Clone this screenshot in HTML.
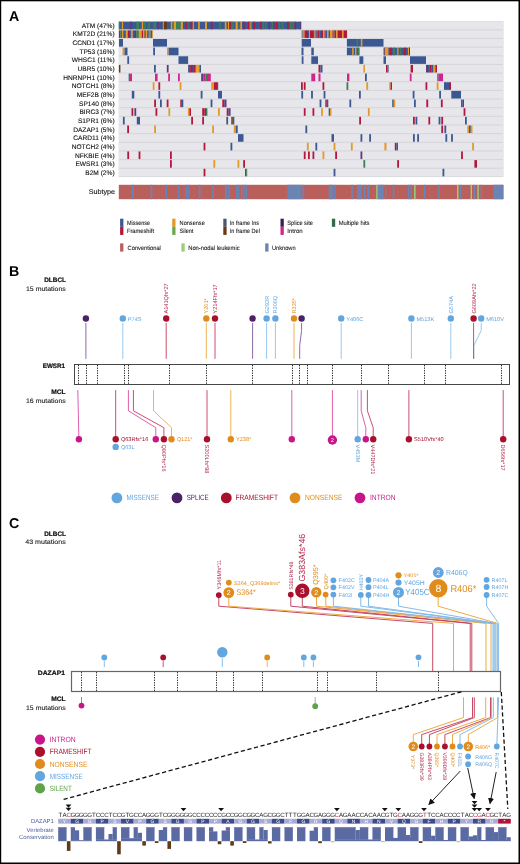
<!DOCTYPE html>
<html><head><meta charset="utf-8"><style>
html,body{margin:0;padding:0;background:#fff;}
body{width:520px;height:864px;overflow:hidden;position:relative;}
svg{position:absolute;left:0;top:0;font-family:'Liberation Sans',sans-serif;will-change:transform;}
svg text{font-family:'Liberation Sans',sans-serif;text-rendering:geometricPrecision;}
</style></head><body>
<svg width="520" height="864" viewBox="0 0 520 864">
<rect x="0" y="0" width="520" height="864" fill="#fff"/>
<text x="9.00" y="21.30" font-size="14.2" fill="#000" text-anchor="start" font-weight="bold" >A</text>
<rect x="118.80" y="21.20" width="384.60" height="155.90" fill="#d6d6da" />
<rect x="118.80" y="21.70" width="384.60" height="7.60" fill="#e6e6eb" />
<rect x="118.80" y="30.35" width="384.60" height="7.60" fill="#e6e6eb" />
<rect x="118.80" y="39.00" width="384.60" height="7.60" fill="#e6e6eb" />
<rect x="118.80" y="47.65" width="384.60" height="7.60" fill="#e6e6eb" />
<rect x="118.80" y="56.30" width="384.60" height="7.60" fill="#e6e6eb" />
<rect x="118.80" y="64.95" width="384.60" height="7.60" fill="#e6e6eb" />
<rect x="118.80" y="73.60" width="384.60" height="7.60" fill="#e6e6eb" />
<rect x="118.80" y="82.25" width="384.60" height="7.60" fill="#e6e6eb" />
<rect x="118.80" y="90.90" width="384.60" height="7.60" fill="#e6e6eb" />
<rect x="118.80" y="99.55" width="384.60" height="7.60" fill="#e6e6eb" />
<rect x="118.80" y="108.20" width="384.60" height="7.60" fill="#e6e6eb" />
<rect x="118.80" y="116.85" width="384.60" height="7.60" fill="#e6e6eb" />
<rect x="118.80" y="125.50" width="384.60" height="7.60" fill="#e6e6eb" />
<rect x="118.80" y="134.15" width="384.60" height="7.60" fill="#e6e6eb" />
<rect x="118.80" y="142.80" width="384.60" height="7.60" fill="#e6e6eb" />
<rect x="118.80" y="151.45" width="384.60" height="7.60" fill="#e6e6eb" />
<rect x="118.80" y="160.10" width="384.60" height="7.60" fill="#e6e6eb" />
<rect x="118.80" y="168.75" width="384.60" height="7.60" fill="#e6e6eb" />
<text x="114.60" y="27.80" font-size="6.6" fill="#151515" text-anchor="end" font-weight="normal" stroke="#151515" stroke-width="0.12">ATM (47%)</text>
<text x="114.60" y="36.45" font-size="6.6" fill="#151515" text-anchor="end" font-weight="normal" stroke="#151515" stroke-width="0.12">KMT2D (21%)</text>
<text x="114.60" y="45.10" font-size="6.6" fill="#151515" text-anchor="end" font-weight="normal" stroke="#151515" stroke-width="0.12">CCND1 (17%)</text>
<text x="114.60" y="53.75" font-size="6.6" fill="#151515" text-anchor="end" font-weight="normal" stroke="#151515" stroke-width="0.12">TP53 (16%)</text>
<text x="114.60" y="62.40" font-size="6.6" fill="#151515" text-anchor="end" font-weight="normal" stroke="#151515" stroke-width="0.12">WHSC1 (11%)</text>
<text x="114.60" y="71.05" font-size="6.6" fill="#151515" text-anchor="end" font-weight="normal" stroke="#151515" stroke-width="0.12">UBR5 (10%)</text>
<text x="114.60" y="79.70" font-size="6.6" fill="#151515" text-anchor="end" font-weight="normal" stroke="#151515" stroke-width="0.12">HNRNPH1 (10%)</text>
<text x="114.60" y="88.35" font-size="6.6" fill="#151515" text-anchor="end" font-weight="normal" stroke="#151515" stroke-width="0.12">NOTCH1 (8%)</text>
<text x="114.60" y="97.00" font-size="6.6" fill="#151515" text-anchor="end" font-weight="normal" stroke="#151515" stroke-width="0.12">MEF2B (8%)</text>
<text x="114.60" y="105.65" font-size="6.6" fill="#151515" text-anchor="end" font-weight="normal" stroke="#151515" stroke-width="0.12">SP140 (8%)</text>
<text x="114.60" y="114.30" font-size="6.6" fill="#151515" text-anchor="end" font-weight="normal" stroke="#151515" stroke-width="0.12">BIRC3 (7%)</text>
<text x="114.60" y="122.95" font-size="6.6" fill="#151515" text-anchor="end" font-weight="normal" stroke="#151515" stroke-width="0.12">S1PR1 (6%)</text>
<text x="114.60" y="131.60" font-size="6.6" fill="#151515" text-anchor="end" font-weight="normal" stroke="#151515" stroke-width="0.12">DAZAP1 (5%)</text>
<text x="114.60" y="140.25" font-size="6.6" fill="#151515" text-anchor="end" font-weight="normal" stroke="#151515" stroke-width="0.12">CARD11 (4%)</text>
<text x="114.60" y="148.90" font-size="6.6" fill="#151515" text-anchor="end" font-weight="normal" stroke="#151515" stroke-width="0.12">NOTCH2 (4%)</text>
<text x="114.60" y="157.55" font-size="6.6" fill="#151515" text-anchor="end" font-weight="normal" stroke="#151515" stroke-width="0.12">NFKBIE (4%)</text>
<text x="114.60" y="166.20" font-size="6.6" fill="#151515" text-anchor="end" font-weight="normal" stroke="#151515" stroke-width="0.12">EWSR1 (3%)</text>
<text x="114.60" y="174.85" font-size="6.6" fill="#151515" text-anchor="end" font-weight="normal" stroke="#151515" stroke-width="0.12">B2M (2%)</text>
<rect x="118.80" y="21.70" width="182.50" height="7.60" fill="#3b5892" />
<rect x="118.90" y="21.70" width="1.30" height="7.60" fill="#3f7d58" />
<rect x="121.90" y="21.70" width="1.20" height="7.60" fill="#e39a29" />
<rect x="130.10" y="21.70" width="1.70" height="7.60" fill="#5b3c7e" />
<rect x="136.20" y="21.70" width="3.00" height="7.60" fill="#3f7d58" />
<rect x="141.80" y="21.70" width="1.30" height="7.60" fill="#e39a29" />
<rect x="143.10" y="21.70" width="2.60" height="7.60" fill="#3f7d58" />
<rect x="147.80" y="21.70" width="2.20" height="7.60" fill="#3f7d58" />
<rect x="153.50" y="21.70" width="2.50" height="7.60" fill="#3f7d58" />
<rect x="157.40" y="21.70" width="1.70" height="7.60" fill="#5b3c7e" />
<rect x="160.90" y="21.70" width="1.30" height="7.60" fill="#5b3c7e" />
<rect x="162.80" y="21.70" width="1.10" height="7.60" fill="#e39a29" />
<rect x="163.90" y="21.70" width="3.00" height="7.60" fill="#6a3a14" />
<rect x="170.80" y="21.70" width="1.70" height="7.60" fill="#e39a29" />
<rect x="172.50" y="21.70" width="1.30" height="7.60" fill="#3f7d58" />
<rect x="173.80" y="21.70" width="2.20" height="7.60" fill="#e39a29" />
<rect x="176.00" y="21.70" width="4.80" height="7.60" fill="#3f7d58" />
<rect x="180.80" y="21.70" width="2.10" height="7.60" fill="#e39a29" />
<rect x="185.50" y="21.70" width="1.30" height="7.60" fill="#b2183d" />
<rect x="187.70" y="21.70" width="0.90" height="7.60" fill="#3f7d58" />
<rect x="190.70" y="21.70" width="2.00" height="7.60" fill="#b2183d" />
<rect x="192.70" y="21.70" width="1.20" height="7.60" fill="#e39a29" />
<rect x="198.10" y="21.70" width="1.70" height="7.60" fill="#e39a29" />
<rect x="205.00" y="21.70" width="2.00" height="7.60" fill="#e39a29" />
<rect x="210.90" y="21.70" width="1.60" height="7.60" fill="#b2183d" />
<rect x="219.10" y="21.70" width="1.80" height="7.60" fill="#3f7d58" />
<rect x="224.80" y="21.70" width="1.70" height="7.60" fill="#e39a29" />
<rect x="228.00" y="21.70" width="1.10" height="7.60" fill="#e39a29" />
<rect x="229.10" y="21.70" width="1.70" height="7.60" fill="#b2183d" />
<rect x="231.20" y="21.70" width="2.60" height="7.60" fill="#3f7d58" />
<rect x="235.60" y="21.70" width="2.10" height="7.60" fill="#e39a29" />
<rect x="238.60" y="21.70" width="0.90" height="7.60" fill="#3f7d58" />
<rect x="240.30" y="21.70" width="1.80" height="7.60" fill="#e39a29" />
<rect x="242.50" y="21.70" width="2.60" height="7.60" fill="#5b3c7e" />
<rect x="248.00" y="21.70" width="1.00" height="7.60" fill="#b2183d" />
<rect x="249.00" y="21.70" width="1.10" height="7.60" fill="#3f7d58" />
<rect x="250.30" y="21.70" width="1.10" height="7.60" fill="#e39a29" />
<rect x="253.10" y="21.70" width="1.80" height="7.60" fill="#b2183d" />
<rect x="260.20" y="21.70" width="1.60" height="7.60" fill="#b2183d" />
<rect x="262.30" y="21.70" width="1.60" height="7.60" fill="#3f7d58" />
<rect x="264.90" y="21.70" width="1.60" height="7.60" fill="#3f7d58" />
<rect x="268.60" y="21.70" width="1.60" height="7.60" fill="#5b3c7e" />
<rect x="271.80" y="21.70" width="1.10" height="7.60" fill="#3f7d58" />
<rect x="273.40" y="21.70" width="1.60" height="7.60" fill="#5b3c7e" />
<rect x="276.00" y="21.70" width="1.60" height="7.60" fill="#b2183d" />
<rect x="278.70" y="21.70" width="1.60" height="7.60" fill="#3f7d58" />
<rect x="281.90" y="21.70" width="1.50" height="7.60" fill="#3f7d58" />
<rect x="287.20" y="21.70" width="1.50" height="7.60" fill="#b2183d" />
<rect x="289.80" y="21.70" width="1.60" height="7.60" fill="#3f7d58" />
<rect x="292.40" y="21.70" width="1.60" height="7.60" fill="#3f7d58" />
<rect x="294.60" y="21.70" width="1.50" height="7.60" fill="#b2183d" />
<rect x="299.90" y="21.70" width="1.00" height="7.60" fill="#5b3c7e" />
<rect x="118.90" y="30.35" width="1.45" height="7.60" fill="#b2183d" />
<rect x="120.20" y="30.35" width="0.95" height="7.60" fill="#3f7d58" />
<rect x="121.00" y="30.35" width="1.05" height="7.60" fill="#3b5892" />
<rect x="121.90" y="30.35" width="1.45" height="7.60" fill="#e39a29" />
<rect x="123.20" y="30.35" width="1.85" height="7.60" fill="#3b5892" />
<rect x="124.90" y="30.35" width="1.05" height="7.60" fill="#3b5892" />
<rect x="125.80" y="30.35" width="2.05" height="7.60" fill="#e39a29" />
<rect x="127.70" y="30.35" width="2.55" height="7.60" fill="#b2183d" />
<rect x="130.10" y="30.35" width="1.45" height="7.60" fill="#3b5892" />
<rect x="131.40" y="30.35" width="1.45" height="7.60" fill="#e39a29" />
<rect x="132.70" y="30.35" width="2.35" height="7.60" fill="#3b5892" />
<rect x="134.90" y="30.35" width="1.45" height="7.60" fill="#b2183d" />
<rect x="136.20" y="30.35" width="2.75" height="7.60" fill="#3f7d58" />
<rect x="138.80" y="30.35" width="3.15" height="7.60" fill="#e39a29" />
<rect x="141.80" y="30.35" width="1.45" height="7.60" fill="#b2183d" />
<rect x="143.10" y="30.35" width="1.45" height="7.60" fill="#e39a29" />
<rect x="144.40" y="30.35" width="1.45" height="7.60" fill="#6a3a14" />
<rect x="145.70" y="30.35" width="1.45" height="7.60" fill="#e39a29" />
<rect x="147.00" y="30.35" width="1.45" height="7.60" fill="#3f7d58" />
<rect x="148.30" y="30.35" width="1.45" height="7.60" fill="#3b5892" />
<rect x="149.60" y="30.35" width="0.95" height="7.60" fill="#e39a29" />
<rect x="150.40" y="30.35" width="1.95" height="7.60" fill="#3b5892" />
<rect x="152.20" y="30.35" width="0.85" height="7.60" fill="#e39a29" />
<rect x="301.30" y="30.35" width="1.35" height="7.60" fill="#e39a29" />
<rect x="302.50" y="30.35" width="1.15" height="7.60" fill="#3b5892" />
<rect x="303.50" y="30.35" width="1.15" height="7.60" fill="#e39a29" />
<rect x="304.50" y="30.35" width="3.65" height="7.60" fill="#b2183d" />
<rect x="308.00" y="30.35" width="1.15" height="7.60" fill="#3b5892" />
<rect x="309.00" y="30.35" width="1.15" height="7.60" fill="#e39a29" />
<rect x="310.00" y="30.35" width="3.15" height="7.60" fill="#b2183d" />
<rect x="313.00" y="30.35" width="1.65" height="7.60" fill="#3b5892" />
<rect x="314.50" y="30.35" width="1.15" height="7.60" fill="#e39a29" />
<rect x="315.50" y="30.35" width="1.15" height="7.60" fill="#6a3a14" />
<rect x="316.50" y="30.35" width="1.15" height="7.60" fill="#3b5892" />
<rect x="317.50" y="30.35" width="2.15" height="7.60" fill="#b2183d" />
<rect x="319.50" y="30.35" width="1.65" height="7.60" fill="#3b5892" />
<rect x="321.00" y="30.35" width="1.15" height="7.60" fill="#5b3c7e" />
<rect x="322.00" y="30.35" width="1.15" height="7.60" fill="#b2183d" />
<rect x="323.00" y="30.35" width="1.65" height="7.60" fill="#e39a29" />
<rect x="324.50" y="30.35" width="1.15" height="7.60" fill="#b2183d" />
<rect x="325.50" y="30.35" width="1.65" height="7.60" fill="#3b5892" />
<rect x="327.00" y="30.35" width="1.65" height="7.60" fill="#e39a29" />
<rect x="328.50" y="30.35" width="1.65" height="7.60" fill="#3b5892" />
<rect x="330.00" y="30.35" width="2.65" height="7.60" fill="#e39a29" />
<rect x="332.50" y="30.35" width="1.15" height="7.60" fill="#b2183d" />
<rect x="333.50" y="30.35" width="1.15" height="7.60" fill="#3f7d58" />
<rect x="334.50" y="30.35" width="1.65" height="7.60" fill="#b2183d" />
<rect x="336.00" y="30.35" width="1.65" height="7.60" fill="#e39a29" />
<rect x="337.50" y="30.35" width="4.65" height="7.60" fill="#b2183d" />
<rect x="342.00" y="30.35" width="1.65" height="7.60" fill="#e39a29" />
<rect x="343.50" y="30.35" width="3.55" height="7.60" fill="#b2183d" />
<rect x="346.90" y="47.65" width="12.50" height="7.60" fill="#3b5892" />
<rect x="383.80" y="47.65" width="26.20" height="7.60" fill="#3b5892" />
<rect x="352.10" y="47.65" width="1.60" height="7.60" fill="#e39a29" />
<rect x="355.00" y="47.65" width="1.40" height="7.60" fill="#e39a29" />
<rect x="357.50" y="47.65" width="1.80" height="7.60" fill="#3f7d58" />
<rect x="383.70" y="47.65" width="1.10" height="7.60" fill="#5b3c7e" />
<rect x="384.80" y="47.65" width="3.60" height="7.60" fill="#e39a29" />
<rect x="389.80" y="47.65" width="2.00" height="7.60" fill="#b2183d" />
<rect x="393.10" y="47.65" width="2.00" height="7.60" fill="#3f7d58" />
<rect x="397.20" y="47.65" width="1.30" height="7.60" fill="#e39a29" />
<rect x="399.90" y="47.65" width="1.30" height="7.60" fill="#3f7d58" />
<rect x="403.90" y="47.65" width="2.00" height="7.60" fill="#b2183d" />
<rect x="407.90" y="47.65" width="1.10" height="7.60" fill="#e39a29" />
<rect x="409.00" y="47.65" width="1.00" height="7.60" fill="#6a3a14" />
<rect x="188.10" y="64.95" width="2.00" height="7.60" fill="#3b5892" />
<rect x="190.10" y="64.95" width="1.90" height="7.60" fill="#b2183d" />
<rect x="192.00" y="64.95" width="1.90" height="7.60" fill="#5b3c7e" />
<rect x="193.90" y="64.95" width="1.90" height="7.60" fill="#b2183d" />
<rect x="195.80" y="64.95" width="1.90" height="7.60" fill="#e39a29" />
<rect x="197.70" y="64.95" width="1.70" height="7.60" fill="#e39a29" />
<rect x="199.40" y="64.95" width="1.60" height="7.60" fill="#3b5892" />
<rect x="426.00" y="64.95" width="2.00" height="7.60" fill="#5b3c7e" />
<rect x="428.00" y="64.95" width="1.90" height="7.60" fill="#3b5892" />
<rect x="429.90" y="64.95" width="1.90" height="7.60" fill="#b2183d" />
<rect x="431.80" y="64.95" width="1.80" height="7.60" fill="#3b5892" />
<rect x="433.60" y="64.95" width="1.70" height="7.60" fill="#e39a29" />
<rect x="435.30" y="64.95" width="1.70" height="7.60" fill="#b2183d" />
<rect x="201.20" y="73.60" width="2.00" height="7.60" fill="#5b3c7e" />
<rect x="203.20" y="73.60" width="2.00" height="7.60" fill="#d1258d" />
<rect x="205.20" y="73.60" width="1.80" height="7.60" fill="#3f7d58" />
<rect x="207.00" y="73.60" width="3.80" height="7.60" fill="#d1258d" />
<rect x="119.00" y="39.00" width="4.00" height="7.60" fill="#3b5892" />
<rect x="153.00" y="39.00" width="14.00" height="7.60" fill="#3b5892" />
<rect x="301.70" y="39.00" width="9.30" height="7.60" fill="#3b5892" />
<rect x="346.90" y="39.00" width="36.60" height="7.60" fill="#3b5892" />
<rect x="356.60" y="39.00" width="1.60" height="7.60" fill="#3f7d58" />
<rect x="360.80" y="39.00" width="1.60" height="7.60" fill="#e39a29" />
<rect x="122.50" y="47.65" width="2.00" height="7.60" fill="#e39a29" />
<rect x="124.50" y="47.65" width="3.00" height="7.60" fill="#3b5892" />
<rect x="153.20" y="47.65" width="1.80" height="7.60" fill="#3b5892" />
<rect x="167.00" y="47.65" width="1.60" height="7.60" fill="#e39a29" />
<rect x="168.60" y="47.65" width="9.90" height="7.60" fill="#3b5892" />
<rect x="301.50" y="47.65" width="2.00" height="7.60" fill="#3b5892" />
<rect x="311.30" y="47.65" width="2.50" height="7.60" fill="#3b5892" />
<rect x="127.30" y="56.30" width="1.80" height="7.60" fill="#3b5892" />
<rect x="178.50" y="56.30" width="9.60" height="7.60" fill="#3b5892" />
<rect x="301.70" y="56.30" width="1.80" height="7.60" fill="#3b5892" />
<rect x="311.30" y="56.30" width="6.70" height="7.60" fill="#3b5892" />
<rect x="359.40" y="56.30" width="3.90" height="7.60" fill="#3b5892" />
<rect x="383.50" y="56.30" width="2.50" height="7.60" fill="#3b5892" />
<rect x="410.00" y="56.30" width="16.00" height="7.60" fill="#3b5892" />
<rect x="118.90" y="64.95" width="1.50" height="7.60" fill="#6a3a14" />
<rect x="154.00" y="64.95" width="1.80" height="7.60" fill="#3b5892" />
<rect x="166.80" y="64.95" width="1.80" height="7.60" fill="#5b3c7e" />
<rect x="318.50" y="64.95" width="2.00" height="7.60" fill="#b2183d" />
<rect x="320.50" y="64.95" width="2.00" height="7.60" fill="#3b5892" />
<rect x="363.40" y="64.95" width="1.60" height="7.60" fill="#e39a29" />
<rect x="386.00" y="64.95" width="1.30" height="7.60" fill="#b2183d" />
<rect x="387.30" y="64.95" width="1.30" height="7.60" fill="#3b5892" />
<rect x="410.60" y="64.95" width="2.40" height="7.60" fill="#b2183d" />
<rect x="128.60" y="73.60" width="1.40" height="7.60" fill="#3f7d58" />
<rect x="130.00" y="73.60" width="2.00" height="7.60" fill="#d1258d" />
<rect x="155.00" y="73.60" width="2.60" height="7.60" fill="#d1258d" />
<rect x="168.20" y="73.60" width="1.80" height="7.60" fill="#d1258d" />
<rect x="178.00" y="73.60" width="1.80" height="7.60" fill="#d1258d" />
<rect x="311.30" y="73.60" width="3.90" height="7.60" fill="#d1258d" />
<rect x="318.50" y="73.60" width="2.00" height="7.60" fill="#d1258d" />
<rect x="347.00" y="73.60" width="2.40" height="7.60" fill="#d1258d" />
<rect x="365.00" y="73.60" width="1.80" height="7.60" fill="#3b5892" />
<rect x="409.80" y="73.60" width="1.80" height="7.60" fill="#d1258d" />
<rect x="437.30" y="73.60" width="1.30" height="7.60" fill="#3b5892" />
<rect x="438.60" y="73.60" width="4.40" height="7.60" fill="#d1258d" />
<rect x="152.70" y="82.25" width="1.80" height="7.60" fill="#e39a29" />
<rect x="158.40" y="82.25" width="1.80" height="7.60" fill="#b2183d" />
<rect x="179.60" y="82.25" width="1.80" height="7.60" fill="#e39a29" />
<rect x="211.20" y="82.25" width="2.80" height="7.60" fill="#e39a29" />
<rect x="214.00" y="82.25" width="3.00" height="7.60" fill="#b2183d" />
<rect x="217.00" y="82.25" width="1.20" height="7.60" fill="#3b5892" />
<rect x="301.00" y="82.25" width="1.80" height="7.60" fill="#b2183d" />
<rect x="303.80" y="82.25" width="1.80" height="7.60" fill="#b2183d" />
<rect x="322.50" y="82.25" width="1.80" height="7.60" fill="#b2183d" />
<rect x="346.50" y="82.25" width="1.80" height="7.60" fill="#3f7d58" />
<rect x="366.30" y="82.25" width="1.80" height="7.60" fill="#e39a29" />
<rect x="389.20" y="82.25" width="1.40" height="7.60" fill="#e39a29" />
<rect x="390.60" y="82.25" width="1.40" height="7.60" fill="#b2183d" />
<rect x="425.50" y="82.25" width="1.80" height="7.60" fill="#b2183d" />
<rect x="436.70" y="82.25" width="1.80" height="7.60" fill="#e39a29" />
<rect x="444.00" y="82.25" width="5.00" height="7.60" fill="#3b5892" />
<rect x="449.00" y="82.25" width="2.00" height="7.60" fill="#b2183d" />
<rect x="131.80" y="90.90" width="2.50" height="7.60" fill="#3b5892" />
<rect x="158.40" y="90.90" width="1.80" height="7.60" fill="#3b5892" />
<rect x="200.70" y="90.90" width="1.80" height="7.60" fill="#3b5892" />
<rect x="218.00" y="90.90" width="4.00" height="7.60" fill="#3b5892" />
<rect x="301.30" y="90.90" width="1.80" height="7.60" fill="#3b5892" />
<rect x="311.10" y="90.90" width="1.80" height="7.60" fill="#3b5892" />
<rect x="323.60" y="90.90" width="1.80" height="7.60" fill="#3b5892" />
<rect x="359.00" y="90.90" width="1.80" height="7.60" fill="#3b5892" />
<rect x="412.70" y="90.90" width="1.80" height="7.60" fill="#3b5892" />
<rect x="439.20" y="90.90" width="1.80" height="7.60" fill="#3b5892" />
<rect x="451.30" y="90.90" width="9.70" height="7.60" fill="#3b5892" />
<rect x="154.20" y="99.55" width="1.80" height="7.60" fill="#b2183d" />
<rect x="160.00" y="99.55" width="1.80" height="7.60" fill="#3b5892" />
<rect x="166.70" y="99.55" width="1.80" height="7.60" fill="#b2183d" />
<rect x="180.30" y="99.55" width="1.60" height="7.60" fill="#b2183d" />
<rect x="181.90" y="99.55" width="1.40" height="7.60" fill="#3b5892" />
<rect x="210.60" y="99.55" width="1.80" height="7.60" fill="#3b5892" />
<rect x="222.30" y="99.55" width="2.00" height="7.60" fill="#b2183d" />
<rect x="224.30" y="99.55" width="2.20" height="7.60" fill="#5b3c7e" />
<rect x="319.60" y="99.55" width="1.80" height="7.60" fill="#3b5892" />
<rect x="325.30" y="99.55" width="1.50" height="7.60" fill="#b2183d" />
<rect x="326.80" y="99.55" width="1.50" height="7.60" fill="#3b5892" />
<rect x="349.40" y="99.55" width="1.80" height="7.60" fill="#3b5892" />
<rect x="392.20" y="99.55" width="1.60" height="7.60" fill="#3b5892" />
<rect x="393.80" y="99.55" width="1.40" height="7.60" fill="#e39a29" />
<rect x="414.00" y="99.55" width="1.80" height="7.60" fill="#3b5892" />
<rect x="426.30" y="99.55" width="1.90" height="7.60" fill="#b2183d" />
<rect x="440.90" y="99.55" width="1.80" height="7.60" fill="#b2183d" />
<rect x="461.00" y="99.55" width="1.60" height="7.60" fill="#3b5892" />
<rect x="462.60" y="99.55" width="1.40" height="7.60" fill="#5b3c7e" />
<rect x="131.50" y="108.20" width="1.80" height="7.60" fill="#b2183d" />
<rect x="134.40" y="108.20" width="1.80" height="7.60" fill="#5b3c7e" />
<rect x="155.50" y="108.20" width="1.80" height="7.60" fill="#b2183d" />
<rect x="168.40" y="108.20" width="1.80" height="7.60" fill="#e39a29" />
<rect x="187.90" y="108.20" width="1.50" height="7.60" fill="#e39a29" />
<rect x="189.40" y="108.20" width="1.60" height="7.60" fill="#b2183d" />
<rect x="202.20" y="108.20" width="1.80" height="7.60" fill="#b2183d" />
<rect x="204.20" y="108.20" width="1.80" height="7.60" fill="#b2183d" />
<rect x="206.00" y="108.20" width="1.40" height="7.60" fill="#3f7d58" />
<rect x="218.00" y="108.20" width="1.80" height="7.60" fill="#e39a29" />
<rect x="226.70" y="108.20" width="2.00" height="7.60" fill="#b2183d" />
<rect x="228.70" y="108.20" width="1.90" height="7.60" fill="#3b5892" />
<rect x="303.80" y="108.20" width="1.80" height="7.60" fill="#b2183d" />
<rect x="312.50" y="108.20" width="1.80" height="7.60" fill="#b2183d" />
<rect x="321.10" y="108.20" width="1.80" height="7.60" fill="#e39a29" />
<rect x="328.70" y="108.20" width="1.40" height="7.60" fill="#3b5892" />
<rect x="330.10" y="108.20" width="1.40" height="7.60" fill="#e39a29" />
<rect x="367.90" y="108.20" width="1.80" height="7.60" fill="#e39a29" />
<rect x="463.60" y="108.20" width="1.80" height="7.60" fill="#b2183d" />
<rect x="122.90" y="116.85" width="1.80" height="7.60" fill="#3b5892" />
<rect x="136.80" y="116.85" width="3.20" height="7.60" fill="#3b5892" />
<rect x="191.20" y="116.85" width="1.80" height="7.60" fill="#b2183d" />
<rect x="202.20" y="116.85" width="1.80" height="7.60" fill="#b2183d" />
<rect x="226.30" y="116.85" width="1.80" height="7.60" fill="#4c5873" />
<rect x="231.30" y="116.85" width="1.50" height="7.60" fill="#6a3a14" />
<rect x="232.80" y="116.85" width="1.50" height="7.60" fill="#3b5892" />
<rect x="359.20" y="116.85" width="1.80" height="7.60" fill="#b2183d" />
<rect x="413.00" y="116.85" width="1.80" height="7.60" fill="#b2183d" />
<rect x="415.50" y="116.85" width="1.80" height="7.60" fill="#3b5892" />
<rect x="428.40" y="116.85" width="1.80" height="7.60" fill="#b2183d" />
<rect x="438.60" y="116.85" width="1.80" height="7.60" fill="#3b5892" />
<rect x="441.30" y="116.85" width="1.80" height="7.60" fill="#b2183d" />
<rect x="465.00" y="116.85" width="1.80" height="7.60" fill="#3b5892" />
<rect x="127.20" y="125.50" width="1.80" height="7.60" fill="#b2183d" />
<rect x="154.20" y="125.50" width="1.80" height="7.60" fill="#e39a29" />
<rect x="212.20" y="125.50" width="1.80" height="7.60" fill="#e39a29" />
<rect x="233.80" y="125.50" width="2.00" height="7.60" fill="#e39a29" />
<rect x="235.80" y="125.50" width="1.90" height="7.60" fill="#3b5892" />
<rect x="305.40" y="125.50" width="1.80" height="7.60" fill="#3b5892" />
<rect x="441.30" y="125.50" width="1.80" height="7.60" fill="#b2183d" />
<rect x="444.40" y="125.50" width="1.80" height="7.60" fill="#3b5892" />
<rect x="467.30" y="125.50" width="1.70" height="7.60" fill="#e39a29" />
<rect x="469.00" y="125.50" width="1.80" height="7.60" fill="#3b5892" />
<rect x="470.80" y="125.50" width="1.70" height="7.60" fill="#e39a29" />
<rect x="238.00" y="134.15" width="5.50" height="7.60" fill="#3b5892" />
<rect x="331.50" y="134.15" width="2.50" height="7.60" fill="#3b5892" />
<rect x="360.50" y="134.15" width="1.80" height="7.60" fill="#3b5892" />
<rect x="369.20" y="134.15" width="1.80" height="7.60" fill="#3b5892" />
<rect x="413.00" y="134.15" width="1.80" height="7.60" fill="#3b5892" />
<rect x="417.20" y="134.15" width="1.80" height="7.60" fill="#3b5892" />
<rect x="445.40" y="134.15" width="1.80" height="7.60" fill="#3b5892" />
<rect x="451.10" y="134.15" width="1.80" height="7.60" fill="#3b5892" />
<rect x="203.60" y="142.80" width="1.80" height="7.60" fill="#b2183d" />
<rect x="230.50" y="142.80" width="1.80" height="7.60" fill="#3b5892" />
<rect x="306.90" y="142.80" width="1.80" height="7.60" fill="#e39a29" />
<rect x="315.40" y="142.80" width="1.80" height="7.60" fill="#3b5892" />
<rect x="333.60" y="142.80" width="1.80" height="7.60" fill="#e39a29" />
<rect x="350.90" y="142.80" width="1.80" height="7.60" fill="#e39a29" />
<rect x="384.40" y="142.80" width="2.10" height="7.60" fill="#e39a29" />
<rect x="394.80" y="142.80" width="1.60" height="7.60" fill="#b2183d" />
<rect x="396.40" y="142.80" width="1.60" height="7.60" fill="#3b5892" />
<rect x="472.20" y="142.80" width="1.80" height="7.60" fill="#e39a29" />
<rect x="127.30" y="151.45" width="1.80" height="7.60" fill="#b2183d" />
<rect x="138.60" y="151.45" width="1.80" height="7.60" fill="#b2183d" />
<rect x="170.00" y="151.45" width="1.80" height="7.60" fill="#b2183d" />
<rect x="303.80" y="151.45" width="1.80" height="7.60" fill="#b2183d" />
<rect x="308.00" y="151.45" width="1.80" height="7.60" fill="#b2183d" />
<rect x="312.50" y="151.45" width="1.80" height="7.60" fill="#b2183d" />
<rect x="322.50" y="151.45" width="1.80" height="7.60" fill="#e39a29" />
<rect x="335.20" y="151.45" width="1.80" height="7.60" fill="#b2183d" />
<rect x="360.50" y="151.45" width="1.80" height="7.60" fill="#5b3c7e" />
<rect x="461.10" y="151.45" width="1.80" height="7.60" fill="#b2183d" />
<rect x="170.00" y="160.10" width="1.80" height="7.60" fill="#b2183d" />
<rect x="213.40" y="160.10" width="1.80" height="7.60" fill="#e39a29" />
<rect x="237.50" y="160.10" width="1.80" height="7.60" fill="#e39a29" />
<rect x="243.20" y="160.10" width="1.80" height="7.60" fill="#b2183d" />
<rect x="363.40" y="160.10" width="1.80" height="7.60" fill="#3f7d58" />
<rect x="397.20" y="160.10" width="1.80" height="7.60" fill="#b2183d" />
<rect x="474.40" y="160.10" width="2.60" height="7.60" fill="#b2183d" />
<rect x="203.60" y="168.75" width="1.80" height="7.60" fill="#b2183d" />
<rect x="245.00" y="168.75" width="1.20" height="7.60" fill="#3b5892" />
<rect x="246.20" y="168.75" width="1.00" height="7.60" fill="#3f7d58" />
<rect x="333.60" y="168.75" width="1.80" height="7.60" fill="#3b5892" />
<rect x="442.50" y="168.75" width="1.80" height="7.60" fill="#3b5892" />
<rect x="118.80" y="184.80" width="384.60" height="14.40" fill="#b9605d" />
<rect x="131.60" y="184.80" width="2.00" height="14.40" fill="#6b84b3" />
<rect x="150.70" y="184.80" width="1.70" height="14.40" fill="#6b84b3" />
<rect x="165.60" y="184.80" width="1.40" height="14.40" fill="#6b84b3" />
<rect x="177.80" y="184.80" width="1.60" height="14.40" fill="#6b84b3" />
<rect x="185.40" y="184.80" width="1.60" height="14.40" fill="#6b84b3" />
<rect x="188.00" y="184.80" width="1.60" height="14.40" fill="#6b84b3" />
<rect x="198.80" y="184.80" width="1.70" height="14.40" fill="#6b84b3" />
<rect x="212.20" y="184.80" width="1.60" height="14.40" fill="#6b84b3" />
<rect x="225.00" y="184.80" width="2.00" height="14.40" fill="#6b84b3" />
<rect x="227.80" y="184.80" width="1.50" height="14.40" fill="#6b84b3" />
<rect x="236.00" y="184.80" width="1.50" height="14.40" fill="#6b84b3" />
<rect x="238.00" y="184.80" width="1.40" height="14.40" fill="#6b84b3" />
<rect x="241.00" y="184.80" width="1.40" height="14.40" fill="#6b84b3" />
<rect x="243.20" y="184.80" width="1.60" height="14.40" fill="#6b84b3" />
<rect x="245.60" y="184.80" width="1.40" height="14.40" fill="#6b84b3" />
<rect x="287.30" y="184.80" width="14.20" height="14.40" fill="#6b84b3" />
<rect x="302.50" y="184.80" width="1.70" height="14.40" fill="#6b84b3" />
<rect x="328.80" y="184.80" width="3.90" height="14.40" fill="#6b84b3" />
<rect x="334.00" y="184.80" width="1.40" height="14.40" fill="#6b84b3" />
<rect x="351.20" y="184.80" width="1.70" height="14.40" fill="#6b84b3" />
<rect x="357.00" y="184.80" width="4.90" height="14.40" fill="#6b84b3" />
<rect x="363.80" y="184.80" width="1.50" height="14.40" fill="#6b84b3" />
<rect x="367.70" y="184.80" width="1.50" height="14.40" fill="#6b84b3" />
<rect x="376.20" y="184.80" width="1.40" height="14.40" fill="#9dcb7b" />
<rect x="378.00" y="184.80" width="5.80" height="14.40" fill="#6b84b3" />
<rect x="385.00" y="184.80" width="1.40" height="14.40" fill="#6b84b3" />
<rect x="392.80" y="184.80" width="1.60" height="14.40" fill="#6b84b3" />
<rect x="408.00" y="184.80" width="1.60" height="14.40" fill="#6b84b3" />
<rect x="410.40" y="184.80" width="1.60" height="14.40" fill="#6b84b3" />
<rect x="414.00" y="184.80" width="1.60" height="14.40" fill="#9dcb7b" />
<rect x="423.60" y="184.80" width="1.60" height="14.40" fill="#6b84b3" />
<rect x="438.20" y="184.80" width="1.60" height="14.40" fill="#6b84b3" />
<rect x="457.00" y="184.80" width="1.50" height="14.40" fill="#9dcb7b" />
<rect x="459.80" y="184.80" width="1.60" height="14.40" fill="#6b84b3" />
<rect x="470.60" y="184.80" width="1.40" height="14.40" fill="#9dcb7b" />
<rect x="473.60" y="184.80" width="1.60" height="14.40" fill="#6b84b3" />
<rect x="477.40" y="184.80" width="1.40" height="14.40" fill="#9dcb7b" />
<rect x="480.60" y="184.80" width="1.40" height="14.40" fill="#6b84b3" />
<rect x="493.50" y="184.80" width="9.90" height="14.40" fill="#6b84b3" />
<text x="88.70" y="194.40" font-size="6.9" fill="#1a1a1a" text-anchor="start" font-weight="normal" textLength="26.3" lengthAdjust="spacingAndGlyphs" stroke="#1a1a1a" stroke-width="0.12">Subtype</text>
<rect x="120.10" y="218.70" width="3.30" height="8.10" fill="#3b5892" />
<rect x="120.10" y="226.80" width="3.30" height="8.10" fill="#b2183d" />
<text x="126.90" y="225.20" font-size="6.2" fill="#222" text-anchor="start" font-weight="normal" textLength="23.1" lengthAdjust="spacingAndGlyphs" stroke="#222" stroke-width="0.1">Missense</text>
<text x="126.90" y="233.20" font-size="6.2" fill="#222" text-anchor="start" font-weight="normal" textLength="27.1" lengthAdjust="spacingAndGlyphs" stroke="#222" stroke-width="0.1">Frameshift</text>
<rect x="172.20" y="218.70" width="3.30" height="8.10" fill="#e39a29" />
<rect x="172.20" y="226.80" width="3.30" height="8.10" fill="#6aa84f" />
<text x="179.60" y="225.20" font-size="6.2" fill="#222" text-anchor="start" font-weight="normal" textLength="25.2" lengthAdjust="spacingAndGlyphs" stroke="#222" stroke-width="0.1">Nonsense</text>
<text x="179.60" y="233.20" font-size="6.2" fill="#222" text-anchor="start" font-weight="normal" textLength="13.8" lengthAdjust="spacingAndGlyphs" stroke="#222" stroke-width="0.1">Silent</text>
<rect x="223.30" y="218.70" width="3.30" height="8.10" fill="#4c5873" />
<rect x="223.30" y="226.80" width="3.30" height="8.10" fill="#6a3a14" />
<text x="229.80" y="225.20" font-size="6.2" fill="#222" text-anchor="start" font-weight="normal" textLength="29.2" lengthAdjust="spacingAndGlyphs" stroke="#222" stroke-width="0.1">In frame Ins</text>
<text x="229.80" y="233.20" font-size="6.2" fill="#222" text-anchor="start" font-weight="normal" textLength="30.1" lengthAdjust="spacingAndGlyphs" stroke="#222" stroke-width="0.1">In frame Del</text>
<rect x="280.50" y="218.70" width="3.30" height="8.10" fill="#3a1f55" />
<rect x="280.50" y="226.80" width="3.30" height="8.10" fill="#d1258d" />
<text x="287.30" y="225.20" font-size="6.2" fill="#222" text-anchor="start" font-weight="normal" textLength="25.5" lengthAdjust="spacingAndGlyphs" stroke="#222" stroke-width="0.1">Splice site</text>
<text x="287.30" y="233.20" font-size="6.2" fill="#222" text-anchor="start" font-weight="normal" textLength="15.4" lengthAdjust="spacingAndGlyphs" stroke="#222" stroke-width="0.1">Intron</text>
<rect x="331.90" y="218.70" width="3.30" height="8.10" fill="#2f6a4a" />
<text x="338.70" y="225.20" font-size="6.2" fill="#222" text-anchor="start" font-weight="normal" textLength="30.8" lengthAdjust="spacingAndGlyphs" stroke="#222" stroke-width="0.1">Multiple hits</text>
<rect x="120.10" y="243.40" width="3.30" height="8.20" fill="#b9605d" />
<text x="127.60" y="250.00" font-size="6.2" fill="#222" text-anchor="start" font-weight="normal" textLength="33.3" lengthAdjust="spacingAndGlyphs" stroke="#222" stroke-width="0.1">Conventional</text>
<rect x="181.40" y="243.40" width="3.30" height="8.20" fill="#9dcb7b" />
<text x="188.20" y="250.00" font-size="6.2" fill="#222" text-anchor="start" font-weight="normal" textLength="51.4" lengthAdjust="spacingAndGlyphs" stroke="#222" stroke-width="0.1">Non-nodal leukemic</text>
<rect x="265.20" y="243.40" width="3.30" height="8.20" fill="#6b84b3" />
<text x="271.90" y="250.00" font-size="6.2" fill="#222" text-anchor="start" font-weight="normal" textLength="23.7" lengthAdjust="spacingAndGlyphs" stroke="#222" stroke-width="0.1">Unknown</text>
<text x="9.00" y="276.20" font-size="14.2" fill="#000" text-anchor="start" font-weight="bold" >B</text>
<text x="44.20" y="281.90" font-size="6.4" fill="#111" text-anchor="start" font-weight="bold" textLength="21.8" lengthAdjust="spacingAndGlyphs" stroke="#111" stroke-width="0.2">DLBCL</text>
<text x="26.00" y="290.60" font-size="6.5" fill="#1a1a1a" text-anchor="start" font-weight="normal" stroke="#1a1a1a" stroke-width="0.1" textLength="39.8" lengthAdjust="spacingAndGlyphs">15 mutations</text>
<text x="42.70" y="368.10" font-size="6.4" fill="#111" text-anchor="start" font-weight="bold" textLength="22.4" lengthAdjust="spacingAndGlyphs" stroke="#111" stroke-width="0.2">EWSR1</text>
<text x="51.20" y="394.20" font-size="6.4" fill="#111" text-anchor="start" font-weight="bold" textLength="14.5" lengthAdjust="spacingAndGlyphs" stroke="#111" stroke-width="0.2">MCL</text>
<text x="26.00" y="402.80" font-size="6.5" fill="#1a1a1a" text-anchor="start" font-weight="normal" stroke="#1a1a1a" stroke-width="0.1" textLength="39.8" lengthAdjust="spacingAndGlyphs">16 mutations</text>
<rect x="74.5" y="364.5" width="435.00" height="20.00" fill="#fff" stroke="#333" stroke-width="0.9"/>
<line x1="78.50" y1="365.00" x2="78.50" y2="384.00" stroke="#111" stroke-width="0.9" stroke-dasharray="1.3,1.2"/>
<line x1="86.50" y1="365.00" x2="86.50" y2="384.00" stroke="#111" stroke-width="0.9" stroke-dasharray="1.3,1.2"/>
<line x1="97.50" y1="365.00" x2="97.50" y2="384.00" stroke="#111" stroke-width="0.9" stroke-dasharray="1.3,1.2"/>
<line x1="124.50" y1="365.00" x2="124.50" y2="384.00" stroke="#111" stroke-width="0.9" stroke-dasharray="1.3,1.2"/>
<line x1="128.50" y1="365.00" x2="128.50" y2="384.00" stroke="#111" stroke-width="0.9" stroke-dasharray="1.3,1.2"/>
<line x1="169.50" y1="365.00" x2="169.50" y2="384.00" stroke="#111" stroke-width="0.9" stroke-dasharray="1.3,1.2"/>
<line x1="206.50" y1="365.00" x2="206.50" y2="384.00" stroke="#111" stroke-width="0.9" stroke-dasharray="1.3,1.2"/>
<line x1="252.50" y1="365.00" x2="252.50" y2="384.00" stroke="#111" stroke-width="0.9" stroke-dasharray="1.3,1.2"/>
<line x1="292.50" y1="365.00" x2="292.50" y2="384.00" stroke="#111" stroke-width="0.9" stroke-dasharray="1.3,1.2"/>
<line x1="299.50" y1="365.00" x2="299.50" y2="384.00" stroke="#111" stroke-width="0.9" stroke-dasharray="1.3,1.2"/>
<line x1="307.50" y1="365.00" x2="307.50" y2="384.00" stroke="#111" stroke-width="0.9" stroke-dasharray="1.3,1.2"/>
<line x1="332.50" y1="365.00" x2="332.50" y2="384.00" stroke="#111" stroke-width="0.9" stroke-dasharray="1.3,1.2"/>
<line x1="361.50" y1="365.00" x2="361.50" y2="384.00" stroke="#111" stroke-width="0.9" stroke-dasharray="1.3,1.2"/>
<line x1="388.50" y1="365.00" x2="388.50" y2="384.00" stroke="#111" stroke-width="0.9" stroke-dasharray="1.3,1.2"/>
<line x1="424.50" y1="365.00" x2="424.50" y2="384.00" stroke="#111" stroke-width="0.9" stroke-dasharray="1.3,1.2"/>
<line x1="445.50" y1="365.00" x2="445.50" y2="384.00" stroke="#111" stroke-width="0.9" stroke-dasharray="1.3,1.2"/>
<line x1="501.50" y1="365.00" x2="501.50" y2="384.00" stroke="#111" stroke-width="0.9" stroke-dasharray="1.3,1.2"/>
<polyline points="301.60,322.90 301.60,330.50 299.70,345.50 299.70,358.80" fill="none" stroke="#8c6aa8" stroke-width="1" stroke-linejoin="miter" />
<polyline points="481.20,322.90 481.20,330.50 473.80,345.50 473.80,358.80" fill="none" stroke="#9ac6ee" stroke-width="1" stroke-linejoin="miter" />
<line x1="85.90" y1="322.90" x2="85.90" y2="358.80" stroke="#8c6aa8" stroke-width="1" />
<line x1="122.80" y1="322.90" x2="122.80" y2="358.80" stroke="#9ac6ee" stroke-width="1" />
<line x1="166.20" y1="322.90" x2="166.20" y2="358.80" stroke="#c9506e" stroke-width="1" />
<line x1="206.30" y1="322.90" x2="206.30" y2="358.80" stroke="#efb455" stroke-width="1" />
<line x1="215.00" y1="322.90" x2="215.00" y2="358.80" stroke="#c9506e" stroke-width="1" />
<line x1="252.60" y1="322.90" x2="252.60" y2="358.80" stroke="#8c6aa8" stroke-width="1" />
<line x1="266.60" y1="322.90" x2="266.60" y2="358.80" stroke="#9ac6ee" stroke-width="1" />
<line x1="275.40" y1="322.90" x2="275.40" y2="358.80" stroke="#9ac6ee" stroke-width="1" />
<line x1="294.00" y1="322.90" x2="294.00" y2="358.80" stroke="#efb455" stroke-width="1" />
<line x1="341.20" y1="322.90" x2="341.20" y2="358.80" stroke="#9ac6ee" stroke-width="1" />
<line x1="411.40" y1="322.90" x2="411.40" y2="358.80" stroke="#9ac6ee" stroke-width="1" />
<line x1="450.80" y1="322.90" x2="450.80" y2="358.80" stroke="#9ac6ee" stroke-width="1" />
<line x1="473.60" y1="322.90" x2="473.60" y2="358.80" stroke="#c9506e" stroke-width="1" />
<circle cx="85.90" cy="318.50" r="3.20" fill="#4c2266" />
<circle cx="122.80" cy="318.50" r="3.20" fill="#62a6e0" />
<text x="127.80" y="320.60" font-size="5.6" fill="#62a6e0" text-anchor="start" font-weight="normal" >P74S</text>
<circle cx="166.20" cy="318.50" r="3.20" fill="#a8102e" />
<text transform="translate(168.20,313.50) rotate(-90)" font-size="5.6" fill="#b3294b" >A141Qfs*27</text>
<circle cx="206.30" cy="318.50" r="3.20" fill="#e08c1c" />
<text transform="translate(208.30,313.50) rotate(-90)" font-size="5.6" fill="#e08c1c" >Y201*</text>
<circle cx="215.00" cy="318.50" r="3.20" fill="#a8102e" />
<text transform="translate(217.00,313.50) rotate(-90)" font-size="5.6" fill="#b3294b" >Y214Ffs*17</text>
<circle cx="252.60" cy="318.50" r="3.20" fill="#4c2266" />
<circle cx="266.60" cy="318.50" r="3.20" fill="#62a6e0" />
<text transform="translate(268.60,313.50) rotate(-90)" font-size="5.6" fill="#62a6e0" >G293R</text>
<circle cx="275.40" cy="318.50" r="3.20" fill="#62a6e0" />
<text transform="translate(277.40,313.50) rotate(-90)" font-size="5.6" fill="#62a6e0" >R306Q</text>
<circle cx="294.00" cy="318.50" r="3.20" fill="#e08c1c" />
<text transform="translate(296.00,313.50) rotate(-90)" font-size="5.6" fill="#e08c1c" >R335*</text>
<circle cx="301.60" cy="318.50" r="3.20" fill="#4c2266" />
<circle cx="341.20" cy="318.50" r="3.20" fill="#62a6e0" />
<text x="346.20" y="320.60" font-size="5.6" fill="#62a6e0" text-anchor="start" font-weight="normal" >Y406C</text>
<circle cx="411.40" cy="318.50" r="3.20" fill="#62a6e0" />
<text x="416.40" y="320.60" font-size="5.6" fill="#62a6e0" text-anchor="start" font-weight="normal" >M513K</text>
<circle cx="450.80" cy="318.50" r="3.20" fill="#62a6e0" />
<text transform="translate(452.80,313.50) rotate(-90)" font-size="5.6" fill="#62a6e0" >G574A</text>
<circle cx="473.60" cy="318.50" r="3.20" fill="#a8102e" />
<text transform="translate(475.60,313.50) rotate(-90)" font-size="5.6" fill="#b3294b" >G609Afs*22</text>
<circle cx="481.20" cy="318.50" r="3.20" fill="#62a6e0" />
<text x="486.20" y="320.60" font-size="5.6" fill="#62a6e0" text-anchor="start" font-weight="normal" >M610V</text>
<line x1="77.80" y1="390.10" x2="78.90" y2="439.30" stroke="#de5fae" stroke-width="1" />
<line x1="115.70" y1="390.10" x2="115.70" y2="439.30" stroke="#c9506e" stroke-width="1" />
<polyline points="128.40,390.10 128.40,410.80 155.80,427.70 155.80,439.30" fill="none" stroke="#de5fae" stroke-width="1" stroke-linejoin="miter" />
<polyline points="133.40,390.10 133.40,410.80 163.90,427.70 163.90,439.30" fill="none" stroke="#c9506e" stroke-width="1" stroke-linejoin="miter" />
<polyline points="153.50,390.10 153.50,410.80 171.50,427.70 171.50,439.30" fill="none" stroke="#efb455" stroke-width="1" stroke-linejoin="miter" />
<line x1="207.00" y1="390.10" x2="207.00" y2="439.30" stroke="#c9506e" stroke-width="1" />
<line x1="230.80" y1="390.10" x2="230.80" y2="439.30" stroke="#efb455" stroke-width="1" />
<line x1="291.80" y1="390.10" x2="291.80" y2="439.30" stroke="#de5fae" stroke-width="1" />
<line x1="332.40" y1="390.10" x2="332.40" y2="439.30" stroke="#de5fae" stroke-width="1" />
<line x1="357.70" y1="390.10" x2="357.70" y2="439.30" stroke="#9ac6ee" stroke-width="1" />
<polyline points="361.20,390.10 361.20,410.80 365.80,427.70 365.80,439.30" fill="none" stroke="#de5fae" stroke-width="1" stroke-linejoin="miter" />
<polyline points="367.40,390.10 367.40,410.80 373.20,427.70 373.20,439.30" fill="none" stroke="#c9506e" stroke-width="1" stroke-linejoin="miter" />
<line x1="408.90" y1="390.10" x2="408.90" y2="439.30" stroke="#c9506e" stroke-width="1" />
<line x1="503.20" y1="390.10" x2="503.20" y2="439.30" stroke="#c9506e" stroke-width="1" />
<circle cx="78.90" cy="439.30" r="3.20" fill="#c8168a" />
<circle cx="115.70" cy="439.30" r="3.20" fill="#a8102e" />
<text x="120.90" y="441.40" font-size="5.6" fill="#a8102e" text-anchor="start" font-weight="normal" >Q63Rfs*16</text>
<circle cx="155.80" cy="439.30" r="3.20" fill="#c8168a" />
<circle cx="163.90" cy="439.30" r="3.20" fill="#a8102e" />
<text transform="translate(161.90,444.50) rotate(90)" font-size="5.6" fill="#b3294b" >Q90Pfs*16</text>
<circle cx="171.50" cy="439.30" r="3.20" fill="#e08c1c" />
<text x="176.70" y="441.40" font-size="5.6" fill="#e08c1c" text-anchor="start" font-weight="normal" >Q121*</text>
<circle cx="207.00" cy="439.30" r="3.20" fill="#a8102e" />
<text transform="translate(205.00,444.50) rotate(90)" font-size="5.6" fill="#b3294b" >S200Lfs*98</text>
<circle cx="230.80" cy="439.30" r="3.20" fill="#e08c1c" />
<text x="236.00" y="441.40" font-size="5.6" fill="#e08c1c" text-anchor="start" font-weight="normal" >Y238*</text>
<circle cx="291.80" cy="439.30" r="3.20" fill="#c8168a" />
<circle cx="332.40" cy="440.00" r="4.70" fill="#c8168a" />
<text x="332.40" y="442.02" font-size="5.6" fill="#fff" text-anchor="middle">2</text>
<circle cx="357.70" cy="439.30" r="3.20" fill="#62a6e0" />
<text transform="translate(355.70,444.50) rotate(90)" font-size="5.6" fill="#62a6e0" >V453M</text>
<circle cx="365.80" cy="439.30" r="3.20" fill="#c8168a" />
<circle cx="373.20" cy="439.30" r="3.20" fill="#a8102e" />
<text transform="translate(371.20,444.50) rotate(90)" font-size="5.6" fill="#b3294b" >V447Dfs*21</text>
<circle cx="408.90" cy="439.30" r="3.20" fill="#a8102e" />
<text x="414.10" y="441.40" font-size="5.6" fill="#a8102e" text-anchor="start" font-weight="normal" >S510Vfs*40</text>
<circle cx="503.20" cy="439.30" r="3.20" fill="#a8102e" />
<text transform="translate(501.20,444.50) rotate(90)" font-size="5.6" fill="#b3294b" >D656fs*17</text>
<circle cx="115.70" cy="446.90" r="3.20" fill="#62a6e0" />
<text x="120.90" y="449.00" font-size="5.6" fill="#62a6e0" text-anchor="start" font-weight="normal" >Q63L</text>
<circle cx="116.90" cy="497.90" r="5.40" fill="#62a6e0" />
<text x="126.50" y="499.80" font-size="7.6" fill="#62a6e0" text-anchor="start" font-weight="normal" textLength="32.3" lengthAdjust="spacingAndGlyphs">MISSENSE</text>
<circle cx="177.00" cy="497.90" r="5.40" fill="#4c2266" />
<text x="186.70" y="499.80" font-size="7.6" fill="#4c2266" text-anchor="start" font-weight="normal" textLength="22.0" lengthAdjust="spacingAndGlyphs">SPLICE</text>
<circle cx="226.30" cy="497.90" r="5.40" fill="#a8102e" />
<text x="235.50" y="499.80" font-size="7.6" fill="#a8102e" text-anchor="start" font-weight="normal" textLength="42.5" lengthAdjust="spacingAndGlyphs">FRAMESHIFT</text>
<circle cx="295.00" cy="497.90" r="5.40" fill="#e08c1c" />
<text x="305.00" y="499.80" font-size="7.6" fill="#e08c1c" text-anchor="start" font-weight="normal" textLength="37.5" lengthAdjust="spacingAndGlyphs">NONSENSE</text>
<circle cx="360.00" cy="497.90" r="5.40" fill="#c8168a" />
<text x="370.00" y="499.80" font-size="7.6" fill="#c8168a" text-anchor="start" font-weight="normal" textLength="25.5" lengthAdjust="spacingAndGlyphs">INTRON</text>
<text x="9.00" y="528.40" font-size="14.2" fill="#000" text-anchor="start" font-weight="bold" >C</text>
<text x="44.20" y="535.80" font-size="6.4" fill="#111" text-anchor="start" font-weight="bold" textLength="21.8" lengthAdjust="spacingAndGlyphs" stroke="#111" stroke-width="0.2">DLBCL</text>
<text x="25.20" y="544.00" font-size="6.5" fill="#1a1a1a" text-anchor="start" font-weight="normal" stroke="#1a1a1a" stroke-width="0.1" textLength="40.6" lengthAdjust="spacingAndGlyphs">43 mutations</text>
<polyline points="218.80,595.10 218.80,606.20 432.70,623.40 432.70,671.50" fill="none" stroke="#c4405f" stroke-width="0.95" stroke-linejoin="miter" />
<polyline points="228.80,592.60 228.80,606.20 453.50,623.40 453.50,671.50" fill="none" stroke="#eba63e" stroke-width="0.95" stroke-linejoin="miter" />
<polyline points="290.80,594.60 290.80,606.20 470.20,623.40 470.20,671.50" fill="none" stroke="#c4405f" stroke-width="0.95" stroke-linejoin="miter" />
<polyline points="302.30,590.80 302.30,606.20 471.80,623.40 471.80,671.50" fill="none" stroke="#c4405f" stroke-width="0.95" stroke-linejoin="miter" />
<polyline points="316.50,592.30 316.50,606.20 486.00,623.40 486.00,671.50" fill="none" stroke="#eba63e" stroke-width="0.95" stroke-linejoin="miter" />
<polyline points="325.80,594.90 325.80,606.20 491.00,623.40 491.00,671.50" fill="none" stroke="#eba63e" stroke-width="0.95" stroke-linejoin="miter" />
<polyline points="333.40,594.60 333.40,606.20 493.00,623.40 493.00,671.50" fill="none" stroke="#7fb6e8" stroke-width="0.95" stroke-linejoin="miter" />
<polyline points="360.80,594.90 360.80,606.20 494.00,623.40 494.00,671.50" fill="none" stroke="#7fb6e8" stroke-width="0.95" stroke-linejoin="miter" />
<polyline points="368.50,594.90 368.50,606.20 495.00,623.40 495.00,671.50" fill="none" stroke="#7fb6e8" stroke-width="0.95" stroke-linejoin="miter" />
<polyline points="398.50,592.80 398.50,606.20 496.00,623.40 496.00,671.50" fill="none" stroke="#7fb6e8" stroke-width="0.95" stroke-linejoin="miter" />
<polyline points="438.20,588.40 438.20,606.20 497.40,623.40 497.40,671.50" fill="none" stroke="#eba63e" stroke-width="0.95" stroke-linejoin="miter" />
<polyline points="486.60,595.00 486.60,606.20 498.60,623.40 498.60,671.50" fill="none" stroke="#7fb6e8" stroke-width="0.95" stroke-linejoin="miter" />
<circle cx="218.80" cy="595.10" r="2.90" fill="#a8102e" />
<text transform="translate(220.80,589.40) rotate(-90)" font-size="5.5" fill="#b3294b" >Y346Mfs*11</text>
<circle cx="228.80" cy="582.60" r="2.90" fill="#e08c1c" />
<text x="233.90" y="584.60" font-size="5.3" fill="#e08c1c" text-anchor="start" font-weight="normal" textLength="46.3" lengthAdjust="spacingAndGlyphs">S364_Q369delins*</text>
<circle cx="228.80" cy="592.60" r="5.40" fill="#e08c1c" />
<text x="228.80" y="595.12" font-size="7.0" fill="#fff" text-anchor="middle">2</text>
<text x="236.50" y="595.10" font-size="8.3" fill="#e08c1c" text-anchor="start" font-weight="normal" textLength="19.3" lengthAdjust="spacingAndGlyphs">S364*</text>
<circle cx="290.80" cy="594.60" r="2.90" fill="#a8102e" />
<text transform="translate(292.80,589.80) rotate(-90)" font-size="5.3" fill="#b3294b" >S381Rfs*48</text>
<circle cx="302.30" cy="590.80" r="7.20" fill="#a8102e" />
<text x="302.30" y="593.90" font-size="8.6" fill="#fff" text-anchor="middle">3</text>
<text transform="translate(305.30,581.60) rotate(-90)" font-size="8.9" fill="#b3294b" >G383Afs*46</text>
<circle cx="316.30" cy="592.20" r="5.20" fill="#e08c1c" />
<text x="316.30" y="594.72" font-size="7.0" fill="#fff" text-anchor="middle">2</text>
<text transform="translate(318.40,584.80) rotate(-90)" font-size="7.2" fill="#e08c1c" >Q395*</text>
<circle cx="325.60" cy="594.60" r="2.90" fill="#e08c1c" />
<text transform="translate(327.60,589.40) rotate(-90)" font-size="5.6" fill="#e08c1c" >Q400*</text>
<circle cx="333.40" cy="580.30" r="2.90" fill="#62a6e0" />
<text x="338.60" y="582.30" font-size="5.4" fill="#62a6e0" text-anchor="start" font-weight="normal" >F402C</text>
<circle cx="333.40" cy="587.30" r="2.90" fill="#62a6e0" />
<text x="338.60" y="589.30" font-size="5.4" fill="#62a6e0" text-anchor="start" font-weight="normal" >F402V</text>
<circle cx="333.40" cy="594.60" r="2.90" fill="#62a6e0" />
<text x="338.60" y="596.60" font-size="5.4" fill="#62a6e0" text-anchor="start" font-weight="normal" >F402I</text>
<circle cx="360.80" cy="594.90" r="2.90" fill="#62a6e0" />
<text transform="translate(362.80,590.20) rotate(-90)" font-size="5.3" fill="#62a6e0" >H403Y</text>
<circle cx="368.50" cy="580.00" r="2.90" fill="#62a6e0" />
<text x="373.00" y="582.00" font-size="5.4" fill="#62a6e0" text-anchor="start" font-weight="normal" >P404A</text>
<circle cx="368.50" cy="587.20" r="2.90" fill="#62a6e0" />
<text x="373.00" y="589.20" font-size="5.4" fill="#62a6e0" text-anchor="start" font-weight="normal" >P404L</text>
<circle cx="368.50" cy="594.90" r="2.90" fill="#62a6e0" />
<text x="373.00" y="596.90" font-size="5.4" fill="#62a6e0" text-anchor="start" font-weight="normal" >P404H</text>
<circle cx="398.50" cy="575.30" r="3.10" fill="#e08c1c" />
<text x="403.70" y="576.90" font-size="5.2" fill="#e08c1c" text-anchor="start" font-weight="normal" textLength="14.9" lengthAdjust="spacingAndGlyphs">Y405*</text>
<circle cx="398.50" cy="582.50" r="3.10" fill="#62a6e0" />
<text x="403.70" y="584.90" font-size="6.7" fill="#62a6e0" text-anchor="start" font-weight="normal" textLength="21.0" lengthAdjust="spacingAndGlyphs">Y405H</text>
<circle cx="398.50" cy="592.40" r="5.50" fill="#62a6e0" />
<text x="398.50" y="594.92" font-size="7.0" fill="#fff" text-anchor="middle">2</text>
<text x="405.30" y="595.00" font-size="8.9" fill="#62a6e0" text-anchor="start" font-weight="normal" textLength="24.2" lengthAdjust="spacingAndGlyphs">Y405C</text>
<circle cx="438.30" cy="572.50" r="5.40" fill="#62a6e0" />
<text x="438.30" y="575.02" font-size="7.0" fill="#fff" text-anchor="middle">2</text>
<text x="446.10" y="575.00" font-size="7.2" fill="#62a6e0" text-anchor="start" font-weight="normal" textLength="21.6" lengthAdjust="spacingAndGlyphs">R406Q</text>
<circle cx="438.30" cy="588.30" r="9.20" fill="#e08c1c" />
<text x="438.30" y="592.08" font-size="10.5" fill="#fff" text-anchor="middle">8</text>
<text x="450.40" y="591.70" font-size="9.8" fill="#e08c1c" text-anchor="start" font-weight="normal" textLength="25.9" lengthAdjust="spacingAndGlyphs">R406*</text>
<circle cx="486.60" cy="579.80" r="2.90" fill="#62a6e0" />
<text x="491.60" y="581.80" font-size="5.4" fill="#62a6e0" text-anchor="start" font-weight="normal" >R407L</text>
<circle cx="486.60" cy="587.00" r="2.90" fill="#62a6e0" />
<text x="491.60" y="589.00" font-size="5.4" fill="#62a6e0" text-anchor="start" font-weight="normal" >R407H</text>
<circle cx="486.60" cy="595.00" r="2.90" fill="#62a6e0" />
<text x="491.60" y="597.00" font-size="5.4" fill="#62a6e0" text-anchor="start" font-weight="normal" >R407C</text>
<rect x="71.5" y="671.5" width="429.00" height="20.00" fill="none" stroke="#666" stroke-width="1.2"/>
<line x1="81.50" y1="672.10" x2="81.50" y2="690.90" stroke="#111" stroke-width="0.9" stroke-dasharray="1.3,1.2"/>
<line x1="96.50" y1="672.10" x2="96.50" y2="690.90" stroke="#111" stroke-width="0.9" stroke-dasharray="1.3,1.2"/>
<line x1="154.50" y1="672.10" x2="154.50" y2="690.90" stroke="#111" stroke-width="0.9" stroke-dasharray="1.3,1.2"/>
<line x1="177.50" y1="672.10" x2="177.50" y2="690.90" stroke="#111" stroke-width="0.9" stroke-dasharray="1.3,1.2"/>
<line x1="216.50" y1="672.10" x2="216.50" y2="690.90" stroke="#111" stroke-width="0.9" stroke-dasharray="1.3,1.2"/>
<line x1="233.50" y1="672.10" x2="233.50" y2="690.90" stroke="#111" stroke-width="0.9" stroke-dasharray="1.3,1.2"/>
<line x1="262.50" y1="672.10" x2="262.50" y2="690.90" stroke="#111" stroke-width="0.9" stroke-dasharray="1.3,1.2"/>
<line x1="317.50" y1="672.10" x2="317.50" y2="690.90" stroke="#111" stroke-width="0.9" stroke-dasharray="1.3,1.2"/>
<line x1="327.50" y1="672.10" x2="327.50" y2="690.90" stroke="#111" stroke-width="0.9" stroke-dasharray="1.3,1.2"/>
<line x1="376.50" y1="672.10" x2="376.50" y2="690.90" stroke="#111" stroke-width="0.9" stroke-dasharray="1.3,1.2"/>
<line x1="438.50" y1="672.10" x2="438.50" y2="690.90" stroke="#111" stroke-width="0.9" stroke-dasharray="1.3,1.2"/>
<text x="37.80" y="675.00" font-size="6.4" fill="#111" text-anchor="start" font-weight="bold" textLength="27.2" lengthAdjust="spacingAndGlyphs" stroke="#111" stroke-width="0.2">DAZAP1</text>
<text x="51.20" y="700.70" font-size="6.4" fill="#111" text-anchor="start" font-weight="bold" textLength="14.5" lengthAdjust="spacingAndGlyphs" stroke="#111" stroke-width="0.2">MCL</text>
<text x="26.00" y="709.60" font-size="6.5" fill="#1a1a1a" text-anchor="start" font-weight="normal" stroke="#1a1a1a" stroke-width="0.1" textLength="39.7" lengthAdjust="spacingAndGlyphs">15 mutations</text>
<line x1="104.30" y1="661.20" x2="104.30" y2="667.00" stroke="#6aaae2" stroke-width="0.8" />
<circle cx="104.30" cy="657.50" r="2.90" fill="#62a6e0" />
<line x1="163.20" y1="661.20" x2="163.20" y2="667.00" stroke="#b63050" stroke-width="0.8" />
<circle cx="163.20" cy="657.50" r="2.90" fill="#a8102e" />
<line x1="222.30" y1="658.30" x2="222.30" y2="667.00" stroke="#6aaae2" stroke-width="0.8" />
<circle cx="222.30" cy="652.30" r="5.20" fill="#62a6e0" />
<line x1="267.20" y1="661.20" x2="267.20" y2="667.00" stroke="#e8a040" stroke-width="0.8" />
<circle cx="267.20" cy="657.50" r="2.90" fill="#e08c1c" />
<line x1="303.80" y1="661.20" x2="303.80" y2="667.00" stroke="#6aaae2" stroke-width="0.8" />
<circle cx="303.80" cy="657.50" r="2.90" fill="#62a6e0" />
<line x1="313.40" y1="661.20" x2="313.40" y2="667.00" stroke="#6aaae2" stroke-width="0.8" />
<circle cx="313.40" cy="657.50" r="2.90" fill="#62a6e0" />
<line x1="418.50" y1="661.00" x2="418.50" y2="667.00" stroke="#6aaae2" stroke-width="0.8" />
<circle cx="418.50" cy="657.30" r="2.90" fill="#62a6e0" />
<line x1="81.50" y1="697.00" x2="81.50" y2="705.00" stroke="#de5fae" stroke-width="1" />
<circle cx="81.50" cy="705.60" r="2.90" fill="#c8168a" />
<line x1="315.20" y1="697.00" x2="315.20" y2="705.00" stroke="#8cc47a" stroke-width="1" />
<circle cx="315.20" cy="706.20" r="2.90" fill="#5ea348" />
<line x1="461.50" y1="691.80" x2="62.10" y2="799.80" stroke="#111" stroke-width="1.3" stroke-dasharray="4.2,2.6"/>
<line x1="501.30" y1="692.00" x2="507.80" y2="809.00" stroke="#111" stroke-width="1.3" stroke-dasharray="4.2,2.6"/>
<polyline points="463.50,697.30 463.50,717.60 413.30,734.60 413.30,746.50" fill="none" stroke="#eba63e" stroke-width="0.95" stroke-linejoin="miter" />
<polyline points="472.50,697.30 472.50,717.60 421.70,734.60 421.70,746.50" fill="none" stroke="#c4405f" stroke-width="0.95" stroke-linejoin="miter" />
<polyline points="474.30,697.30 474.30,717.60 429.40,734.60 429.40,746.50" fill="none" stroke="#c4405f" stroke-width="0.95" stroke-linejoin="miter" />
<polyline points="485.70,697.30 485.70,717.60 437.00,734.60 437.00,746.50" fill="none" stroke="#eba63e" stroke-width="0.95" stroke-linejoin="miter" />
<polyline points="490.50,697.30 490.50,717.60 444.90,734.60 444.90,746.50" fill="none" stroke="#c4405f" stroke-width="0.95" stroke-linejoin="miter" />
<polyline points="491.50,697.30 491.50,717.60 452.50,734.60 452.50,746.50" fill="none" stroke="#eba63e" stroke-width="0.95" stroke-linejoin="miter" />
<polyline points="493.30,697.30 493.30,717.60 460.00,734.60 460.00,746.50" fill="none" stroke="#7fb6e8" stroke-width="0.95" stroke-linejoin="miter" />
<polyline points="497.60,697.30 497.60,717.60 468.30,734.60 468.30,746.50" fill="none" stroke="#eba63e" stroke-width="0.95" stroke-linejoin="miter" />
<line x1="498.60" y1="697.30" x2="496.80" y2="746.50" stroke="#7fb6e8" stroke-width="0.95" />
<circle cx="413.30" cy="746.50" r="4.80" fill="#e08c1c" />
<text x="413.30" y="748.80" font-size="6.4" fill="#fff" text-anchor="middle">2</text>
<text transform="translate(411.40,755.00) rotate(90)" font-size="5.2" fill="#e08c1c" >Y373*</text>
<circle cx="421.70" cy="746.50" r="2.90" fill="#a8102e" />
<text transform="translate(419.80,752.40) rotate(90)" font-size="5.2" fill="#b3294b" >G383Rfs*39</text>
<circle cx="429.40" cy="746.50" r="2.90" fill="#a8102e" />
<text transform="translate(427.50,752.40) rotate(90)" font-size="5.2" fill="#b3294b" >A384Pfs*43</text>
<circle cx="437.00" cy="746.50" r="2.90" fill="#e08c1c" />
<text transform="translate(435.10,752.40) rotate(90)" font-size="5.2" fill="#e08c1c" >Q395*</text>
<circle cx="444.90" cy="746.50" r="2.90" fill="#a8102e" />
<text transform="translate(443.00,752.40) rotate(90)" font-size="5.2" fill="#b3294b" >V399Dfs*28</text>
<circle cx="452.50" cy="746.50" r="2.90" fill="#e08c1c" />
<text transform="translate(450.60,752.40) rotate(90)" font-size="5.2" fill="#e08c1c" >Q400*</text>
<circle cx="460.00" cy="746.50" r="2.90" fill="#62a6e0" />
<text transform="translate(458.10,752.40) rotate(90)" font-size="5.2" fill="#62a6e0" >F402L</text>
<circle cx="496.80" cy="746.50" r="2.90" fill="#62a6e0" />
<text transform="translate(494.90,752.40) rotate(90)" font-size="5.2" fill="#62a6e0" >R407C</text>
<circle cx="468.30" cy="746.50" r="4.80" fill="#e08c1c" />
<text x="468.30" y="748.80" font-size="6.4" fill="#fff" text-anchor="middle">2</text>
<text x="475.20" y="748.60" font-size="5.4" fill="#e08c1c" text-anchor="start" font-weight="normal" >R406*</text>
<circle cx="468.10" cy="756.50" r="2.90" fill="#62a6e0" />
<text x="475.20" y="758.50" font-size="5.4" fill="#62a6e0" text-anchor="start" font-weight="normal" >R406G</text>
<circle cx="468.10" cy="764.20" r="2.90" fill="#62a6e0" />
<text x="475.20" y="766.30" font-size="5.4" fill="#62a6e0" text-anchor="start" font-weight="normal" >R406Q</text>
<defs><marker id="ah" viewBox="0 0 10 10" refX="9" refY="5" markerWidth="6.2" markerHeight="6.2" orient="auto"><path d="M0,0 L10,5 L0,10 z" fill="#111"/></marker></defs>
<line x1="460.30" y1="771.00" x2="428.80" y2="804.60" stroke="#222" stroke-width="1.0" marker-end="url(#ah)"/>
<line x1="467.70" y1="767.80" x2="474.20" y2="798.60" stroke="#222" stroke-width="1.0" marker-end="url(#ah)"/>
<line x1="496.20" y1="772.00" x2="490.00" y2="803.60" stroke="#222" stroke-width="1.0" marker-end="url(#ah)"/>
<circle cx="40.00" cy="739.60" r="5.10" fill="#c8168a" />
<text x="49.70" y="742.10" font-size="7.6" fill="#c8168a" text-anchor="start" font-weight="normal" textLength="26.0" lengthAdjust="spacingAndGlyphs">INTRON</text>
<circle cx="40.00" cy="751.80" r="5.10" fill="#a8102e" />
<text x="49.70" y="754.30" font-size="7.6" fill="#a8102e" text-anchor="start" font-weight="normal" textLength="41.8" lengthAdjust="spacingAndGlyphs">FRAMESHIFT</text>
<circle cx="40.00" cy="764.00" r="5.10" fill="#e08c1c" />
<text x="49.70" y="766.50" font-size="7.6" fill="#e08c1c" text-anchor="start" font-weight="normal" textLength="37.7" lengthAdjust="spacingAndGlyphs">NONSENSE</text>
<circle cx="40.00" cy="776.20" r="5.10" fill="#62a6e0" />
<text x="49.70" y="778.70" font-size="7.6" fill="#62a6e0" text-anchor="start" font-weight="normal" textLength="33.1" lengthAdjust="spacingAndGlyphs">MISSENSE</text>
<circle cx="40.00" cy="788.40" r="5.10" fill="#5ea348" />
<text x="49.70" y="790.90" font-size="7.6" fill="#5ea348" text-anchor="start" font-weight="normal" textLength="22.1" lengthAdjust="spacingAndGlyphs">SILENT</text>
<text x="60.30" y="816.8" font-size="6.2" fill="#1a1a1a" text-anchor="middle">T</text>
<text x="64.48" y="816.8" font-size="6.2" fill="#1a1a1a" text-anchor="middle">A</text>
<text x="68.67" y="816.8" font-size="6.2" fill="#d0203a" text-anchor="middle">C</text>
<text x="72.87" y="816.8" font-size="6.2" fill="#1a1a1a" text-anchor="middle">G</text>
<text x="77.06" y="816.8" font-size="6.2" fill="#1a1a1a" text-anchor="middle">G</text>
<text x="81.25" y="816.8" font-size="6.2" fill="#1a1a1a" text-anchor="middle">G</text>
<text x="85.44" y="816.8" font-size="6.2" fill="#1a1a1a" text-anchor="middle">G</text>
<text x="89.62" y="816.8" font-size="6.2" fill="#1a1a1a" text-anchor="middle">G</text>
<text x="93.81" y="816.8" font-size="6.2" fill="#1a1a1a" text-anchor="middle">T</text>
<text x="98.00" y="816.8" font-size="6.2" fill="#1a1a1a" text-anchor="middle">C</text>
<text x="102.20" y="816.8" font-size="6.2" fill="#1a1a1a" text-anchor="middle">C</text>
<text x="106.39" y="816.8" font-size="6.2" fill="#1a1a1a" text-anchor="middle">C</text>
<text x="110.58" y="816.8" font-size="6.2" fill="#1a1a1a" text-anchor="middle">T</text>
<text x="114.77" y="816.8" font-size="6.2" fill="#1a1a1a" text-anchor="middle">C</text>
<text x="118.96" y="816.8" font-size="6.2" fill="#1a1a1a" text-anchor="middle">C</text>
<text x="123.15" y="816.8" font-size="6.2" fill="#1a1a1a" text-anchor="middle">G</text>
<text x="127.34" y="816.8" font-size="6.2" fill="#1a1a1a" text-anchor="middle">T</text>
<text x="131.53" y="816.8" font-size="6.2" fill="#1a1a1a" text-anchor="middle">G</text>
<text x="135.72" y="816.8" font-size="6.2" fill="#1a1a1a" text-anchor="middle">C</text>
<text x="139.91" y="816.8" font-size="6.2" fill="#1a1a1a" text-anchor="middle">C</text>
<text x="144.09" y="816.8" font-size="6.2" fill="#1a1a1a" text-anchor="middle">A</text>
<text x="148.28" y="816.8" font-size="6.2" fill="#1a1a1a" text-anchor="middle">G</text>
<text x="152.47" y="816.8" font-size="6.2" fill="#1a1a1a" text-anchor="middle">G</text>
<text x="156.66" y="816.8" font-size="6.2" fill="#1a1a1a" text-anchor="middle">G</text>
<text x="160.85" y="816.8" font-size="6.2" fill="#1a1a1a" text-anchor="middle">T</text>
<text x="165.05" y="816.8" font-size="6.2" fill="#1a1a1a" text-anchor="middle">C</text>
<text x="169.24" y="816.8" font-size="6.2" fill="#1a1a1a" text-anchor="middle">G</text>
<text x="173.43" y="816.8" font-size="6.2" fill="#1a1a1a" text-anchor="middle">G</text>
<text x="177.62" y="816.8" font-size="6.2" fill="#1a1a1a" text-anchor="middle">G</text>
<text x="181.81" y="816.8" font-size="6.2" fill="#1a1a1a" text-anchor="middle">G</text>
<text x="186.00" y="816.8" font-size="6.2" fill="#1a1a1a" text-anchor="middle">G</text>
<text x="190.19" y="816.8" font-size="6.2" fill="#1a1a1a" text-anchor="middle">G</text>
<text x="194.38" y="816.8" font-size="6.2" fill="#1a1a1a" text-anchor="middle">C</text>
<text x="198.57" y="816.8" font-size="6.2" fill="#1a1a1a" text-anchor="middle">C</text>
<text x="202.76" y="816.8" font-size="6.2" fill="#1a1a1a" text-anchor="middle">C</text>
<text x="206.95" y="816.8" font-size="6.2" fill="#1a1a1a" text-anchor="middle">C</text>
<text x="211.14" y="816.8" font-size="6.2" fill="#1a1a1a" text-anchor="middle">C</text>
<text x="215.33" y="816.8" font-size="6.2" fill="#1a1a1a" text-anchor="middle">C</text>
<text x="219.52" y="816.8" font-size="6.2" fill="#1a1a1a" text-anchor="middle">C</text>
<text x="223.71" y="816.8" font-size="6.2" fill="#1a1a1a" text-anchor="middle">G</text>
<text x="227.90" y="816.8" font-size="6.2" fill="#1a1a1a" text-anchor="middle">C</text>
<text x="232.09" y="816.8" font-size="6.2" fill="#1a1a1a" text-anchor="middle">C</text>
<text x="236.28" y="816.8" font-size="6.2" fill="#1a1a1a" text-anchor="middle">G</text>
<text x="240.47" y="816.8" font-size="6.2" fill="#1a1a1a" text-anchor="middle">G</text>
<text x="244.66" y="816.8" font-size="6.2" fill="#1a1a1a" text-anchor="middle">C</text>
<text x="248.84" y="816.8" font-size="6.2" fill="#1a1a1a" text-anchor="middle">G</text>
<text x="253.03" y="816.8" font-size="6.2" fill="#1a1a1a" text-anchor="middle">G</text>
<text x="257.23" y="816.8" font-size="6.2" fill="#1a1a1a" text-anchor="middle">C</text>
<text x="261.42" y="816.8" font-size="6.2" fill="#1a1a1a" text-anchor="middle">A</text>
<text x="265.61" y="816.8" font-size="6.2" fill="#1a1a1a" text-anchor="middle">G</text>
<text x="269.80" y="816.8" font-size="6.2" fill="#1a1a1a" text-anchor="middle">C</text>
<text x="273.99" y="816.8" font-size="6.2" fill="#1a1a1a" text-anchor="middle">G</text>
<text x="278.18" y="816.8" font-size="6.2" fill="#1a1a1a" text-anchor="middle">G</text>
<text x="282.37" y="816.8" font-size="6.2" fill="#1a1a1a" text-anchor="middle">C</text>
<text x="286.56" y="816.8" font-size="6.2" fill="#1a1a1a" text-anchor="middle">T</text>
<text x="290.75" y="816.8" font-size="6.2" fill="#1a1a1a" text-anchor="middle">T</text>
<text x="294.94" y="816.8" font-size="6.2" fill="#1a1a1a" text-anchor="middle">T</text>
<text x="299.13" y="816.8" font-size="6.2" fill="#1a1a1a" text-anchor="middle">G</text>
<text x="303.32" y="816.8" font-size="6.2" fill="#1a1a1a" text-anchor="middle">G</text>
<text x="307.51" y="816.8" font-size="6.2" fill="#1a1a1a" text-anchor="middle">A</text>
<text x="311.70" y="816.8" font-size="6.2" fill="#1a1a1a" text-anchor="middle">C</text>
<text x="315.89" y="816.8" font-size="6.2" fill="#1a1a1a" text-anchor="middle">G</text>
<text x="320.08" y="816.8" font-size="6.2" fill="#1a1a1a" text-anchor="middle">A</text>
<text x="324.27" y="816.8" font-size="6.2" fill="#1a1a1a" text-anchor="middle">G</text>
<text x="328.46" y="816.8" font-size="6.2" fill="#1a1a1a" text-anchor="middle">G</text>
<text x="332.65" y="816.8" font-size="6.2" fill="#1a1a1a" text-anchor="middle">G</text>
<text x="336.84" y="816.8" font-size="6.2" fill="#d0203a" text-anchor="middle">C</text>
<text x="341.03" y="816.8" font-size="6.2" fill="#1a1a1a" text-anchor="middle">A</text>
<text x="345.22" y="816.8" font-size="6.2" fill="#1a1a1a" text-anchor="middle">G</text>
<text x="349.41" y="816.8" font-size="6.2" fill="#1a1a1a" text-anchor="middle">A</text>
<text x="353.60" y="816.8" font-size="6.2" fill="#1a1a1a" text-anchor="middle">A</text>
<text x="357.79" y="816.8" font-size="6.2" fill="#1a1a1a" text-anchor="middle">C</text>
<text x="361.98" y="816.8" font-size="6.2" fill="#1a1a1a" text-anchor="middle">C</text>
<text x="366.17" y="816.8" font-size="6.2" fill="#1a1a1a" text-anchor="middle">A</text>
<text x="370.36" y="816.8" font-size="6.2" fill="#1a1a1a" text-anchor="middle">C</text>
<text x="374.55" y="816.8" font-size="6.2" fill="#1a1a1a" text-anchor="middle">A</text>
<text x="378.74" y="816.8" font-size="6.2" fill="#1a1a1a" text-anchor="middle">A</text>
<text x="382.93" y="816.8" font-size="6.2" fill="#1a1a1a" text-anchor="middle">C</text>
<text x="387.12" y="816.8" font-size="6.2" fill="#1a1a1a" text-anchor="middle">G</text>
<text x="391.31" y="816.8" font-size="6.2" fill="#1a1a1a" text-anchor="middle">T</text>
<text x="395.50" y="816.8" font-size="6.2" fill="#1a1a1a" text-anchor="middle">G</text>
<text x="399.69" y="816.8" font-size="6.2" fill="#d0203a" text-anchor="middle">C</text>
<text x="403.88" y="816.8" font-size="6.2" fill="#1a1a1a" text-anchor="middle">A</text>
<text x="408.07" y="816.8" font-size="6.2" fill="#1a1a1a" text-anchor="middle">A</text>
<text x="412.26" y="816.8" font-size="6.2" fill="#1a1a1a" text-anchor="middle">G</text>
<text x="416.45" y="816.8" font-size="6.2" fill="#1a1a1a" text-anchor="middle">G</text>
<text x="420.64" y="816.8" font-size="6.2" fill="#1a1a1a" text-anchor="middle">G</text>
<text x="424.83" y="816.8" font-size="6.2" fill="#d0203a" text-anchor="middle">T</text>
<text x="429.02" y="816.8" font-size="6.2" fill="#1a1a1a" text-anchor="middle">T</text>
<text x="433.21" y="816.8" font-size="6.2" fill="#1a1a1a" text-anchor="middle">C</text>
<text x="437.40" y="816.8" font-size="6.2" fill="#1a1a1a" text-anchor="middle">C</text>
<text x="441.59" y="816.8" font-size="6.2" fill="#1a1a1a" text-anchor="middle">A</text>
<text x="445.78" y="816.8" font-size="6.2" fill="#1a1a1a" text-anchor="middle">C</text>
<text x="449.97" y="816.8" font-size="6.2" fill="#1a1a1a" text-anchor="middle">C</text>
<text x="454.16" y="816.8" font-size="6.2" fill="#1a1a1a" text-anchor="middle">C</text>
<text x="458.35" y="816.8" font-size="6.2" fill="#1a1a1a" text-anchor="middle">C</text>
<text x="462.54" y="816.8" font-size="6.2" fill="#1a1a1a" text-anchor="middle">T</text>
<text x="466.73" y="816.8" font-size="6.2" fill="#1a1a1a" text-anchor="middle">A</text>
<text x="470.92" y="816.8" font-size="6.2" fill="#1a1a1a" text-anchor="middle">C</text>
<text x="475.11" y="816.8" font-size="6.2" fill="#d0203a" text-anchor="middle">C</text>
<text x="479.30" y="816.8" font-size="6.2" fill="#d0203a" text-anchor="middle">G</text>
<text x="483.49" y="816.8" font-size="6.2" fill="#1a1a1a" text-anchor="middle">A</text>
<text x="487.68" y="816.8" font-size="6.2" fill="#d0203a" text-anchor="middle">C</text>
<text x="491.87" y="816.8" font-size="6.2" fill="#1a1a1a" text-anchor="middle">G</text>
<text x="496.06" y="816.8" font-size="6.2" fill="#1a1a1a" text-anchor="middle">C</text>
<text x="500.25" y="816.8" font-size="6.2" fill="#1a1a1a" text-anchor="middle">T</text>
<text x="504.44" y="816.8" font-size="6.2" fill="#1a1a1a" text-anchor="middle">A</text>
<text x="508.63" y="816.8" font-size="6.2" fill="#1a1a1a" text-anchor="middle">G</text>
<rect x="58.20" y="818.80" width="12.62" height="4.80" fill="#a8abd4" />
<text x="64.48" y="823.0" font-size="4.9" fill="#fff" text-anchor="middle">Y</text>
<rect x="70.77" y="818.80" width="12.62" height="4.80" fill="#3e4c8c" />
<text x="77.06" y="823.0" font-size="4.9" fill="#fff" text-anchor="middle">G</text>
<rect x="83.34" y="818.80" width="12.62" height="4.80" fill="#a8abd4" />
<text x="89.62" y="823.0" font-size="4.9" fill="#fff" text-anchor="middle">G</text>
<rect x="95.91" y="818.80" width="12.62" height="4.80" fill="#3e4c8c" />
<text x="102.19" y="823.0" font-size="4.9" fill="#fff" text-anchor="middle">P</text>
<rect x="108.48" y="818.80" width="12.62" height="4.80" fill="#a8abd4" />
<text x="114.77" y="823.0" font-size="4.9" fill="#fff" text-anchor="middle">S</text>
<rect x="121.05" y="818.80" width="12.62" height="4.80" fill="#3e4c8c" />
<text x="127.34" y="823.0" font-size="4.9" fill="#fff" text-anchor="middle">V</text>
<rect x="133.62" y="818.80" width="12.62" height="4.80" fill="#a8abd4" />
<text x="139.91" y="823.0" font-size="4.9" fill="#fff" text-anchor="middle">P</text>
<rect x="146.19" y="818.80" width="12.62" height="4.80" fill="#3e4c8c" />
<text x="152.47" y="823.0" font-size="4.9" fill="#fff" text-anchor="middle">G</text>
<rect x="158.76" y="818.80" width="12.62" height="4.80" fill="#a8abd4" />
<text x="165.04" y="823.0" font-size="4.9" fill="#fff" text-anchor="middle">S</text>
<rect x="171.33" y="818.80" width="12.62" height="4.80" fill="#3e4c8c" />
<text x="177.61" y="823.0" font-size="4.9" fill="#fff" text-anchor="middle">G</text>
<rect x="183.90" y="818.80" width="12.62" height="4.80" fill="#a8abd4" />
<text x="190.19" y="823.0" font-size="4.9" fill="#fff" text-anchor="middle">G</text>
<rect x="196.47" y="818.80" width="12.62" height="4.80" fill="#3e4c8c" />
<text x="202.76" y="823.0" font-size="4.9" fill="#fff" text-anchor="middle">P</text>
<rect x="209.04" y="818.80" width="12.62" height="4.80" fill="#a8abd4" />
<text x="215.33" y="823.0" font-size="4.9" fill="#fff" text-anchor="middle">P</text>
<rect x="221.61" y="818.80" width="12.62" height="4.80" fill="#3e4c8c" />
<text x="227.90" y="823.0" font-size="4.9" fill="#fff" text-anchor="middle">A</text>
<rect x="234.18" y="818.80" width="12.62" height="4.80" fill="#a8abd4" />
<text x="240.47" y="823.0" font-size="4.9" fill="#fff" text-anchor="middle">G</text>
<rect x="246.75" y="818.80" width="12.62" height="4.80" fill="#3e4c8c" />
<text x="253.03" y="823.0" font-size="4.9" fill="#fff" text-anchor="middle">G</text>
<rect x="259.32" y="818.80" width="12.62" height="4.80" fill="#a8abd4" />
<text x="265.61" y="823.0" font-size="4.9" fill="#fff" text-anchor="middle">S</text>
<rect x="271.89" y="818.80" width="12.62" height="4.80" fill="#3e4c8c" />
<text x="278.18" y="823.0" font-size="4.9" fill="#fff" text-anchor="middle">G</text>
<rect x="284.46" y="818.80" width="12.62" height="4.80" fill="#a8abd4" />
<text x="290.75" y="823.0" font-size="4.9" fill="#fff" text-anchor="middle">F</text>
<rect x="297.03" y="818.80" width="12.62" height="4.80" fill="#3e4c8c" />
<text x="303.32" y="823.0" font-size="4.9" fill="#fff" text-anchor="middle">G</text>
<rect x="309.60" y="818.80" width="12.62" height="4.80" fill="#a8abd4" />
<text x="315.89" y="823.0" font-size="4.9" fill="#fff" text-anchor="middle">R</text>
<rect x="322.17" y="818.80" width="12.62" height="4.80" fill="#3e4c8c" />
<text x="328.46" y="823.0" font-size="4.9" fill="#fff" text-anchor="middle">G</text>
<rect x="334.74" y="818.80" width="12.62" height="4.80" fill="#a8abd4" />
<text x="341.03" y="823.0" font-size="4.9" fill="#fff" text-anchor="middle">Q</text>
<rect x="347.31" y="818.80" width="12.62" height="4.80" fill="#3e4c8c" />
<text x="353.60" y="823.0" font-size="4.9" fill="#fff" text-anchor="middle">N</text>
<rect x="359.88" y="818.80" width="12.62" height="4.80" fill="#a8abd4" />
<text x="366.17" y="823.0" font-size="4.9" fill="#fff" text-anchor="middle">H</text>
<rect x="372.45" y="818.80" width="12.62" height="4.80" fill="#3e4c8c" />
<text x="378.74" y="823.0" font-size="4.9" fill="#fff" text-anchor="middle">N</text>
<rect x="385.02" y="818.80" width="12.62" height="4.80" fill="#a8abd4" />
<text x="391.31" y="823.0" font-size="4.9" fill="#fff" text-anchor="middle">V</text>
<rect x="397.59" y="818.80" width="12.62" height="4.80" fill="#3e4c8c" />
<text x="403.88" y="823.0" font-size="4.9" fill="#fff" text-anchor="middle">Q</text>
<rect x="410.16" y="818.80" width="12.62" height="4.80" fill="#a8abd4" />
<text x="416.45" y="823.0" font-size="4.9" fill="#fff" text-anchor="middle">G</text>
<rect x="422.73" y="818.80" width="12.62" height="4.80" fill="#3e4c8c" />
<text x="429.02" y="823.0" font-size="4.9" fill="#fff" text-anchor="middle">F</text>
<rect x="435.30" y="818.80" width="12.62" height="4.80" fill="#a8abd4" />
<text x="441.59" y="823.0" font-size="4.9" fill="#fff" text-anchor="middle">H</text>
<rect x="447.87" y="818.80" width="12.62" height="4.80" fill="#3e4c8c" />
<text x="454.16" y="823.0" font-size="4.9" fill="#fff" text-anchor="middle">P</text>
<rect x="460.44" y="818.80" width="12.62" height="4.80" fill="#a8abd4" />
<text x="466.73" y="823.0" font-size="4.9" fill="#fff" text-anchor="middle">Y</text>
<rect x="473.01" y="818.80" width="12.62" height="4.80" fill="#3e4c8c" />
<text x="479.30" y="823.0" font-size="4.9" fill="#fff" text-anchor="middle">R</text>
<rect x="485.58" y="818.80" width="12.62" height="4.80" fill="#a8abd4" />
<text x="491.87" y="823.0" font-size="4.9" fill="#fff" text-anchor="middle">R</text>
<rect x="498.15" y="818.80" width="12.62" height="4.80" fill="#b0123a" />
<text x="504.44" y="823.0" font-size="4.9" fill="#fff" text-anchor="middle">*</text>
<text x="53.80" y="822.60" font-size="5.9" fill="#4a5a9c" text-anchor="end" font-weight="normal" >DAZAP1</text>
<text x="53.80" y="832.20" font-size="5.9" fill="#4a5a9c" text-anchor="end" font-weight="normal" >Vertebrate</text>
<text x="53.80" y="839.00" font-size="5.9" fill="#4a5a9c" text-anchor="end" font-weight="normal" >Conservation</text>
<path d="M65.60,804.60 L71.40,804.60 L68.50,807.80 z" fill="#111"/>
<path d="M65.60,807.80 L71.40,807.80 L68.50,811.00 z" fill="#111"/>
<path d="M180.60,808.00 L186.40,808.00 L183.50,811.20 z" fill="#111"/>
<path d="M218.20,808.00 L224.00,808.00 L221.10,811.20 z" fill="#111"/>
<path d="M334.00,808.00 L339.80,808.00 L336.90,811.20 z" fill="#111"/>
<path d="M381.90,808.00 L387.70,808.00 L384.80,811.20 z" fill="#111"/>
<path d="M395.40,808.00 L401.20,808.00 L398.30,811.20 z" fill="#111"/>
<path d="M421.10,808.00 L426.90,808.00 L424.00,811.20 z" fill="#111"/>
<path d="M476.30,808.00 L482.10,808.00 L479.20,811.20 z" fill="#111"/>
<path d="M485.10,808.00 L490.90,808.00 L488.00,811.20 z" fill="#111"/>
<path d="M471.60,801.00 L477.40,801.00 L474.50,804.20 z" fill="#111"/>
<path d="M471.60,804.60 L477.40,804.60 L474.50,807.80 z" fill="#111"/>
<path d="M471.60,808.00 L477.40,808.00 L474.50,811.20 z" fill="#111"/>
<rect x="58.20" y="827.20" width="8.38" height="14.00" fill="#5a6aa3" />
<rect x="58.20" y="827.20" width="8.38" height="0.90" fill="#d9609a" />
<rect x="70.77" y="840.20" width="20.95" height="1.00" fill="#5a6aa3" />
<rect x="70.77" y="827.20" width="4.19" height="13.30" fill="#5a6aa3" />
<rect x="70.77" y="827.20" width="4.19" height="0.90" fill="#d9609a" />
<rect x="74.96" y="830.30" width="4.19" height="10.20" fill="#5a6aa3" />
<rect x="83.34" y="827.20" width="8.38" height="13.30" fill="#5a6aa3" />
<rect x="83.34" y="827.20" width="8.38" height="0.90" fill="#d9609a" />
<rect x="95.91" y="839.50" width="20.95" height="1.70" fill="#5a6aa3" />
<rect x="95.91" y="827.20" width="8.38" height="12.60" fill="#5a6aa3" />
<rect x="95.91" y="827.20" width="8.38" height="0.90" fill="#d9609a" />
<rect x="108.48" y="834.00" width="4.19" height="5.80" fill="#5a6aa3" />
<rect x="112.67" y="827.20" width="4.19" height="12.60" fill="#5a6aa3" />
<rect x="112.67" y="827.20" width="4.19" height="0.90" fill="#d9609a" />
<rect x="121.05" y="838.20" width="20.95" height="3.00" fill="#5a6aa3" />
<rect x="121.05" y="827.20" width="8.38" height="11.30" fill="#5a6aa3" />
<rect x="121.05" y="827.20" width="8.38" height="0.90" fill="#d9609a" />
<rect x="133.62" y="827.20" width="4.19" height="11.30" fill="#5a6aa3" />
<rect x="133.62" y="827.20" width="4.19" height="0.90" fill="#d9609a" />
<rect x="137.81" y="832.80" width="4.19" height="5.70" fill="#5a6aa3" />
<rect x="146.19" y="827.20" width="8.38" height="14.00" fill="#5a6aa3" />
<rect x="146.19" y="827.20" width="8.38" height="0.90" fill="#d9609a" />
<rect x="158.76" y="830.00" width="8.38" height="11.20" fill="#5a6aa3" />
<rect x="162.95" y="827.20" width="4.19" height="3.10" fill="#5a6aa3" />
<rect x="162.95" y="827.20" width="4.19" height="0.90" fill="#d9609a" />
<rect x="171.33" y="827.20" width="8.38" height="14.00" fill="#5a6aa3" />
<rect x="171.33" y="827.20" width="8.38" height="0.90" fill="#d9609a" />
<rect x="183.90" y="827.20" width="8.38" height="14.00" fill="#5a6aa3" />
<rect x="183.90" y="827.20" width="8.38" height="0.90" fill="#d9609a" />
<rect x="196.47" y="827.20" width="8.38" height="14.00" fill="#5a6aa3" />
<rect x="196.47" y="827.20" width="8.38" height="0.90" fill="#d9609a" />
<rect x="209.04" y="831.40" width="8.38" height="9.80" fill="#5a6aa3" />
<rect x="209.04" y="827.20" width="4.19" height="4.50" fill="#5a6aa3" />
<rect x="209.04" y="827.20" width="4.19" height="0.90" fill="#d9609a" />
<rect x="221.61" y="830.50" width="8.38" height="10.70" fill="#5a6aa3" />
<rect x="225.80" y="827.20" width="4.19" height="3.60" fill="#5a6aa3" />
<rect x="225.80" y="827.20" width="4.19" height="0.90" fill="#d9609a" />
<rect x="234.18" y="827.20" width="8.38" height="14.00" fill="#5a6aa3" />
<rect x="234.18" y="827.20" width="8.38" height="0.90" fill="#d9609a" />
<rect x="246.75" y="839.50" width="20.95" height="1.70" fill="#5a6aa3" />
<rect x="246.75" y="827.20" width="8.38" height="12.60" fill="#5a6aa3" />
<rect x="246.75" y="827.20" width="8.38" height="0.90" fill="#d9609a" />
<rect x="259.32" y="827.20" width="4.19" height="12.60" fill="#5a6aa3" />
<rect x="259.32" y="827.20" width="4.19" height="0.90" fill="#d9609a" />
<rect x="263.51" y="830.00" width="4.19" height="9.80" fill="#5a6aa3" />
<rect x="271.89" y="827.20" width="8.38" height="14.00" fill="#5a6aa3" />
<rect x="271.89" y="827.20" width="8.38" height="0.90" fill="#d9609a" />
<rect x="284.46" y="827.20" width="8.38" height="14.00" fill="#5a6aa3" />
<rect x="284.46" y="827.20" width="8.38" height="0.90" fill="#d9609a" />
<rect x="297.03" y="827.20" width="8.38" height="14.00" fill="#5a6aa3" />
<rect x="297.03" y="827.20" width="8.38" height="0.90" fill="#d9609a" />
<rect x="309.60" y="830.70" width="8.38" height="10.50" fill="#5a6aa3" />
<rect x="313.79" y="827.20" width="4.19" height="3.80" fill="#5a6aa3" />
<rect x="313.79" y="827.20" width="4.19" height="0.90" fill="#d9609a" />
<rect x="322.17" y="827.20" width="8.38" height="14.00" fill="#5a6aa3" />
<rect x="322.17" y="827.20" width="8.38" height="0.90" fill="#d9609a" />
<rect x="334.74" y="839.50" width="46.09" height="1.70" fill="#5a6aa3" />
<rect x="334.74" y="827.20" width="20.95" height="12.60" fill="#5a6aa3" />
<rect x="334.74" y="827.20" width="20.95" height="0.90" fill="#d9609a" />
<rect x="355.69" y="830.00" width="4.19" height="9.80" fill="#5a6aa3" />
<rect x="359.88" y="827.20" width="8.38" height="12.60" fill="#5a6aa3" />
<rect x="359.88" y="827.20" width="8.38" height="0.90" fill="#d9609a" />
<rect x="372.45" y="827.20" width="8.38" height="12.60" fill="#5a6aa3" />
<rect x="372.45" y="827.20" width="8.38" height="0.90" fill="#d9609a" />
<rect x="385.02" y="837.90" width="33.52" height="3.30" fill="#5a6aa3" />
<rect x="385.02" y="827.20" width="8.38" height="11.00" fill="#5a6aa3" />
<rect x="385.02" y="827.20" width="8.38" height="0.90" fill="#d9609a" />
<rect x="397.59" y="827.20" width="8.38" height="11.00" fill="#5a6aa3" />
<rect x="397.59" y="827.20" width="8.38" height="0.90" fill="#d9609a" />
<rect x="405.97" y="835.00" width="4.19" height="3.20" fill="#5a6aa3" />
<rect x="410.16" y="827.20" width="8.38" height="11.00" fill="#5a6aa3" />
<rect x="410.16" y="827.20" width="8.38" height="0.90" fill="#d9609a" />
<rect x="422.73" y="840.00" width="33.52" height="1.20" fill="#5a6aa3" />
<rect x="422.73" y="827.20" width="8.38" height="13.10" fill="#5a6aa3" />
<rect x="422.73" y="827.20" width="8.38" height="0.90" fill="#d9609a" />
<rect x="431.11" y="835.70" width="4.19" height="4.60" fill="#5a6aa3" />
<rect x="435.30" y="827.20" width="8.38" height="13.10" fill="#5a6aa3" />
<rect x="435.30" y="827.20" width="8.38" height="0.90" fill="#d9609a" />
<rect x="447.87" y="827.20" width="8.38" height="13.10" fill="#5a6aa3" />
<rect x="447.87" y="827.20" width="8.38" height="0.90" fill="#d9609a" />
<rect x="460.44" y="840.00" width="50.28" height="1.20" fill="#5a6aa3" />
<rect x="460.44" y="827.20" width="8.38" height="13.10" fill="#5a6aa3" />
<rect x="460.44" y="827.20" width="8.38" height="0.90" fill="#d9609a" />
<rect x="468.82" y="836.40" width="4.19" height="3.90" fill="#5a6aa3" />
<rect x="473.01" y="835.30" width="4.19" height="5.00" fill="#5a6aa3" />
<rect x="477.20" y="827.20" width="4.19" height="13.10" fill="#5a6aa3" />
<rect x="477.20" y="827.20" width="4.19" height="0.90" fill="#d9609a" />
<rect x="485.58" y="827.20" width="8.38" height="13.10" fill="#5a6aa3" />
<rect x="485.58" y="827.20" width="8.38" height="0.90" fill="#d9609a" />
<rect x="493.96" y="832.10" width="4.19" height="8.20" fill="#5a6aa3" />
<rect x="498.15" y="827.20" width="8.38" height="13.10" fill="#5a6aa3" />
<rect x="498.15" y="827.20" width="8.38" height="0.90" fill="#d9609a" />
<rect x="506.53" y="837.20" width="4.19" height="3.10" fill="#5a6aa3" />
<rect x="66.88" y="841.20" width="3.59" height="9.70" fill="#5e3a16" />
<rect x="117.16" y="841.20" width="3.59" height="13.10" fill="#5e3a16" />
<rect x="142.30" y="841.20" width="3.59" height="4.40" fill="#5e3a16" />
<rect x="154.87" y="841.20" width="3.59" height="1.80" fill="#5e3a16" />
<rect x="167.44" y="841.20" width="3.59" height="7.70" fill="#5e3a16" />
<rect x="217.72" y="841.20" width="3.59" height="3.00" fill="#5e3a16" />
<rect x="230.29" y="841.20" width="3.59" height="4.40" fill="#5e3a16" />
<rect x="242.86" y="841.20" width="3.59" height="1.80" fill="#5e3a16" />
<rect x="268.00" y="841.20" width="3.59" height="2.30" fill="#5e3a16" />
<rect x="318.28" y="841.20" width="3.59" height="2.00" fill="#5e3a16" />
<rect x="330.85" y="841.20" width="3.59" height="1.00" fill="#c8a888" />
<rect x="381.13" y="841.20" width="3.59" height="1.00" fill="#c8a888" />
<rect x="418.84" y="841.20" width="3.59" height="1.80" fill="#5e3a16" />
<rect x="456.55" y="841.20" width="3.59" height="1.00" fill="#c8a888" />
<rect x="0" y="0" width="520" height="1.3" fill="#000"/>
<rect x="0" y="0" width="1.2" height="864" fill="#000"/>
<rect x="518.5" y="0" width="1.5" height="864" fill="#000"/>
<rect x="0" y="862.5" width="520" height="1.5" fill="#000"/>
</svg>
</body></html>
